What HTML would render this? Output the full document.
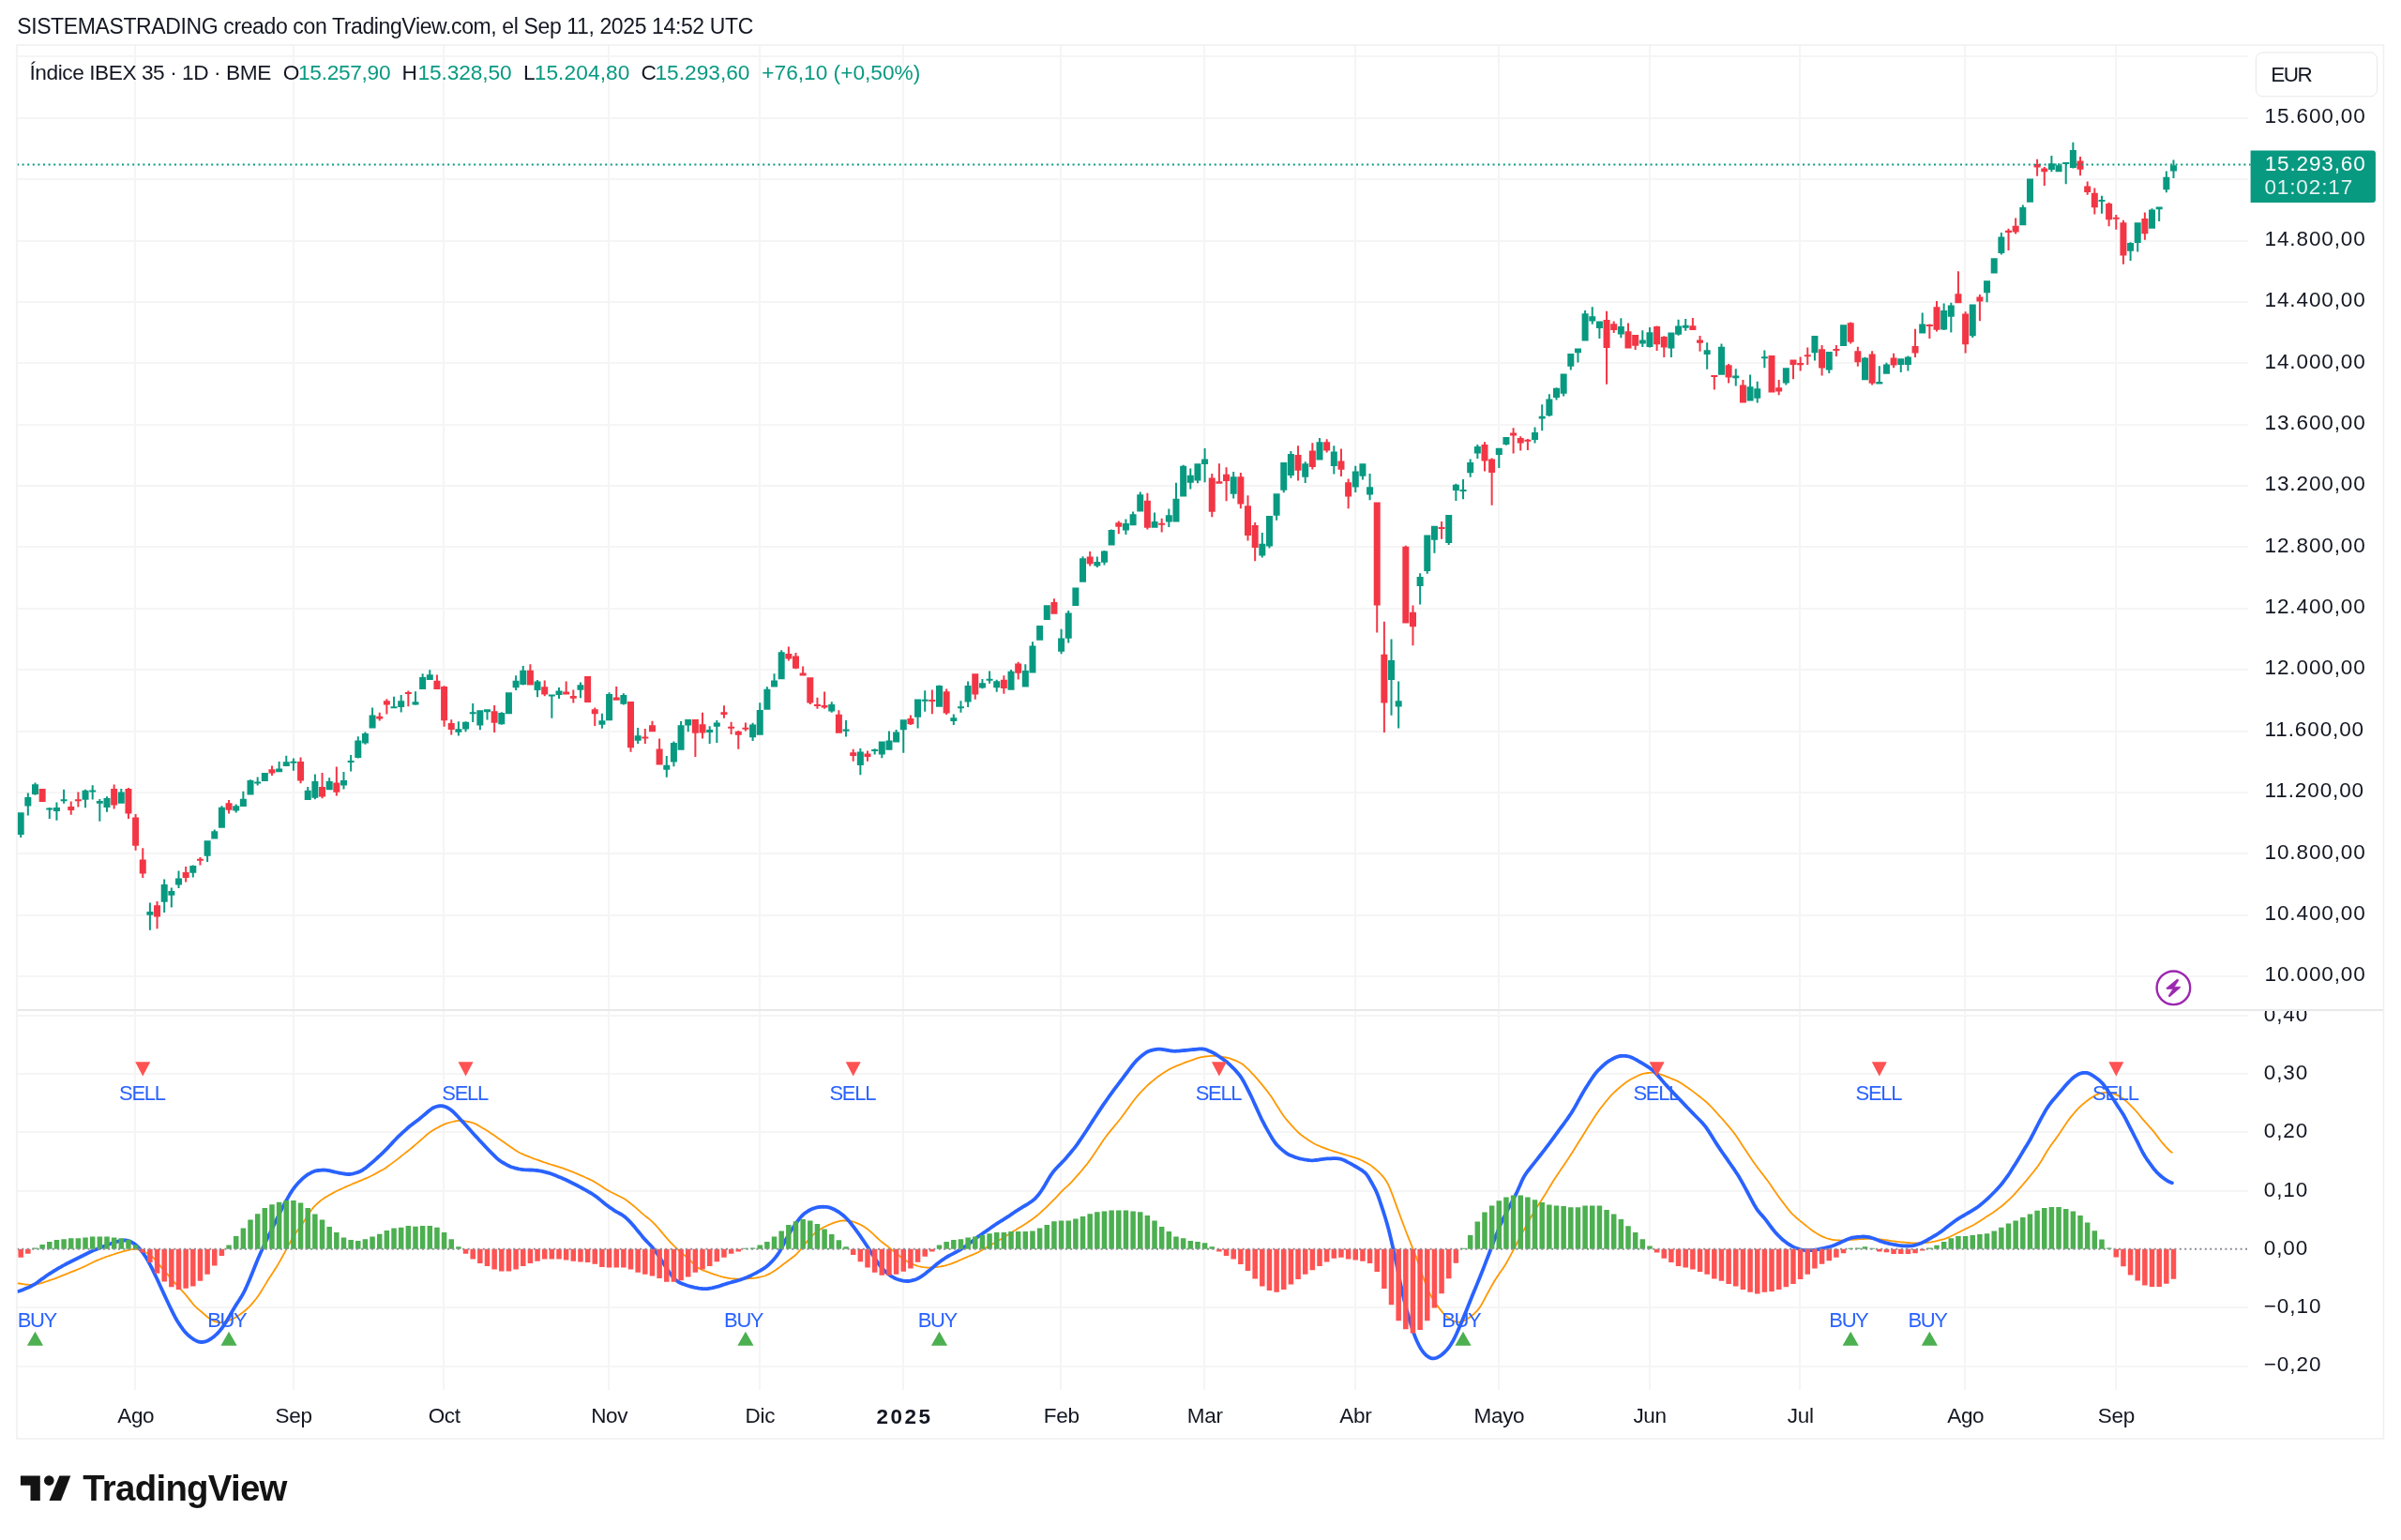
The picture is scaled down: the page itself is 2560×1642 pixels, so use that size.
<!DOCTYPE html>
<html><head><meta charset="utf-8"><style>
html,body{margin:0;padding:0;background:#fff;width:2560px;height:1642px;overflow:hidden}
svg{position:absolute;left:0;top:0;font-family:"Liberation Sans",sans-serif;will-change:transform}
</style></head><body>
<svg width="2560" height="1642" viewBox="0 0 2560 1642">
<line x1="18" y1="60" x2="2397" y2="60" stroke="#f5f5f5" stroke-width="2"/>
<line x1="18" y1="126" x2="2397" y2="126" stroke="#f5f5f5" stroke-width="2"/>
<line x1="18" y1="191" x2="2397" y2="191" stroke="#f5f5f5" stroke-width="2"/>
<line x1="18" y1="257" x2="2397" y2="257" stroke="#f5f5f5" stroke-width="2"/>
<line x1="18" y1="322" x2="2397" y2="322" stroke="#f5f5f5" stroke-width="2"/>
<line x1="18" y1="387" x2="2397" y2="387" stroke="#f5f5f5" stroke-width="2"/>
<line x1="18" y1="453" x2="2397" y2="453" stroke="#f5f5f5" stroke-width="2"/>
<line x1="18" y1="518" x2="2397" y2="518" stroke="#f5f5f5" stroke-width="2"/>
<line x1="18" y1="583" x2="2397" y2="583" stroke="#f5f5f5" stroke-width="2"/>
<line x1="18" y1="649" x2="2397" y2="649" stroke="#f5f5f5" stroke-width="2"/>
<line x1="18" y1="714" x2="2397" y2="714" stroke="#f5f5f5" stroke-width="2"/>
<line x1="18" y1="780" x2="2397" y2="780" stroke="#f5f5f5" stroke-width="2"/>
<line x1="18" y1="845" x2="2397" y2="845" stroke="#f5f5f5" stroke-width="2"/>
<line x1="18" y1="910" x2="2397" y2="910" stroke="#f5f5f5" stroke-width="2"/>
<line x1="18" y1="976" x2="2397" y2="976" stroke="#f5f5f5" stroke-width="2"/>
<line x1="18" y1="1041" x2="2397" y2="1041" stroke="#f5f5f5" stroke-width="2"/>
<line x1="18" y1="1083" x2="2397" y2="1083" stroke="#f5f5f5" stroke-width="2"/>
<line x1="18" y1="1145" x2="2397" y2="1145" stroke="#f5f5f5" stroke-width="2"/>
<line x1="18" y1="1207" x2="2397" y2="1207" stroke="#f5f5f5" stroke-width="2"/>
<line x1="18" y1="1270" x2="2397" y2="1270" stroke="#f5f5f5" stroke-width="2"/>
<line x1="18" y1="1394" x2="2397" y2="1394" stroke="#f5f5f5" stroke-width="2"/>
<line x1="18" y1="1457" x2="2397" y2="1457" stroke="#f5f5f5" stroke-width="2"/>
<line x1="144" y1="48" x2="144" y2="1482" stroke="#f5f5f5" stroke-width="2"/>
<line x1="313" y1="48" x2="313" y2="1482" stroke="#f5f5f5" stroke-width="2"/>
<line x1="473" y1="48" x2="473" y2="1482" stroke="#f5f5f5" stroke-width="2"/>
<line x1="649" y1="48" x2="649" y2="1482" stroke="#f5f5f5" stroke-width="2"/>
<line x1="810" y1="48" x2="810" y2="1482" stroke="#f5f5f5" stroke-width="2"/>
<line x1="963" y1="48" x2="963" y2="1482" stroke="#f5f5f5" stroke-width="2"/>
<line x1="1131" y1="48" x2="1131" y2="1482" stroke="#f5f5f5" stroke-width="2"/>
<line x1="1284" y1="48" x2="1284" y2="1482" stroke="#f5f5f5" stroke-width="2"/>
<line x1="1445" y1="48" x2="1445" y2="1482" stroke="#f5f5f5" stroke-width="2"/>
<line x1="1598" y1="48" x2="1598" y2="1482" stroke="#f5f5f5" stroke-width="2"/>
<line x1="1759" y1="48" x2="1759" y2="1482" stroke="#f5f5f5" stroke-width="2"/>
<line x1="1919" y1="48" x2="1919" y2="1482" stroke="#f5f5f5" stroke-width="2"/>
<line x1="2095" y1="48" x2="2095" y2="1482" stroke="#f5f5f5" stroke-width="2"/>
<line x1="2256" y1="48" x2="2256" y2="1482" stroke="#f5f5f5" stroke-width="2"/>
<clipPath id="mc"><rect x="18" y="48" width="2379" height="1029"/></clipPath>
<g clip-path="url(#mc)"><path fill="#089981" d="M18.68 866.20h7v23.80h-7zM21.18 889.50h2v3.50h-2zM26.33 850.00h7v9.50h-7zM28.83 845.50h2v5.00h-2zM28.83 859.00h2v10.50h-2zM33.99 836.20h7v10.80h-7zM36.49 834.50h2v2.20h-2zM36.49 846.50h2v1.30h-2zM49.29 861.40h7v2.00h-7zM51.79 861.00h2v0.90h-2zM51.79 862.90h2v10.10h-2zM56.94 861.00h7v4.00h-7zM59.44 855.50h2v6.00h-2zM59.44 864.50h2v10.30h-2zM64.59 852.25h7v2.00h-7zM67.09 841.80h2v10.95h-2zM67.09 853.75h2v3.05h-2zM87.54 842.80h7v10.00h-7zM90.04 841.80h2v1.50h-2zM90.04 852.30h2v8.90h-2zM95.19 842.60h7v2.00h-7zM97.69 837.20h2v5.90h-2zM97.69 844.10h2v8.40h-2zM102.84 854.00h7v2.80h-7zM105.34 852.00h2v2.50h-2zM105.34 856.30h2v19.50h-2zM110.50 851.00h7v10.00h-7zM113.00 849.20h2v2.30h-2zM113.00 860.50h2v5.30h-2zM125.80 844.50h7v12.30h-7zM128.30 841.00h2v4.00h-2zM156.40 972.00h7v3.70h-7zM158.90 962.60h2v9.90h-2zM158.90 975.20h2v16.60h-2zM171.70 943.00h7v18.80h-7zM174.20 937.50h2v6.00h-2zM174.20 961.30h2v11.70h-2zM179.35 950.00h7v4.80h-7zM181.85 946.50h2v4.00h-2zM181.85 954.30h2v13.20h-2zM187.01 936.50h7v7.00h-7zM189.51 928.50h2v8.50h-2zM189.51 943.00h2v4.00h-2zM202.31 923.00h7v7.80h-7zM204.81 922.50h2v1.00h-2zM204.81 930.30h2v5.20h-2zM217.61 896.20h7v16.60h-7zM220.11 912.30h2v6.70h-2zM225.26 886.20h7v8.30h-7zM227.76 884.50h2v2.20h-2zM232.91 860.80h7v22.00h-7zM235.41 859.20h2v2.10h-2zM248.21 859.30h7v5.30h-7zM250.71 857.50h2v2.30h-2zM250.71 864.10h2v2.30h-2zM255.87 851.80h7v8.30h-7zM258.37 843.80h2v8.50h-2zM263.52 832.00h7v15.60h-7zM266.02 831.20h2v1.30h-2zM271.17 833.40h7v2.00h-7zM273.67 828.40h2v5.50h-2zM273.67 834.90h2v2.70h-2zM278.82 824.10h7v9.00h-7zM294.12 819.40h7v3.90h-7zM296.62 812.10h2v7.80h-2zM301.77 812.30h7v4.70h-7zM304.27 805.70h2v7.10h-2zM309.42 811.85h7v2.00h-7zM311.92 808.40h2v3.95h-2zM311.92 813.35h2v8.45h-2zM324.72 842.80h7v10.20h-7zM327.22 839.10h2v4.20h-2zM332.38 832.90h7v17.80h-7zM334.88 825.60h2v7.80h-2zM334.88 850.20h2v2.00h-2zM347.68 832.90h7v9.40h-7zM350.18 829.30h2v4.10h-2zM362.98 832.10h7v5.50h-7zM365.48 823.10h2v9.50h-2zM365.48 837.10h2v4.50h-2zM370.63 810.90h7v2.00h-7zM373.13 805.10h2v6.30h-2zM373.13 812.40h2v10.20h-2zM378.28 789.60h7v18.40h-7zM380.78 785.30h2v4.80h-2zM380.78 807.50h2v0.90h-2zM385.93 782.10h7v10.50h-7zM388.43 780.40h2v2.20h-2zM388.43 792.10h2v1.60h-2zM393.58 762.40h7v14.20h-7zM396.08 754.50h2v8.40h-2zM416.54 753.30h7v2.00h-7zM419.04 742.70h2v11.10h-2zM424.19 747.20h7v6.70h-7zM426.69 741.10h2v6.60h-2zM426.69 753.40h2v6.10h-2zM439.49 748.30h7v3.10h-7zM441.99 737.30h2v11.50h-2zM441.99 750.90h2v0.90h-2zM447.14 722.00h7v13.00h-7zM449.64 718.30h2v4.20h-2zM454.79 719.20h7v5.70h-7zM457.29 714.20h2v5.50h-2zM485.39 777.30h7v3.40h-7zM487.89 769.20h2v8.60h-2zM487.89 780.20h2v4.40h-2zM493.05 769.70h7v7.90h-7zM495.55 769.20h2v1.00h-2zM495.55 777.10h2v3.10h-2zM500.70 759.30h7v2.00h-7zM503.20 750.00h2v9.80h-2zM503.20 760.80h2v9.30h-2zM508.35 757.30h7v16.30h-7zM510.85 773.10h2v5.20h-2zM516.00 756.30h7v2.90h-7zM518.50 758.70h2v8.90h-2zM531.30 760.10h7v12.20h-7zM533.80 759.20h2v1.40h-2zM533.80 771.80h2v0.90h-2zM538.95 738.30h7v22.90h-7zM546.60 725.80h7v7.50h-7zM549.10 720.20h2v6.10h-2zM549.10 732.80h2v3.10h-2zM554.25 714.80h7v15.30h-7zM556.75 710.10h2v5.20h-2zM556.75 729.60h2v0.90h-2zM569.56 726.50h7v9.40h-7zM572.06 724.90h2v2.10h-2zM572.06 735.40h2v7.80h-2zM584.86 740.40h7v2.00h-7zM587.36 741.90h2v23.80h-2zM592.51 736.40h7v4.70h-7zM595.01 732.90h2v4.00h-2zM595.01 740.60h2v4.50h-2zM615.46 730.30h7v5.40h-7zM617.96 727.50h2v3.30h-2zM617.96 735.20h2v9.00h-2zM638.41 768.20h7v4.50h-7zM640.91 760.80h2v7.90h-2zM640.91 772.20h2v4.50h-2zM646.07 740.10h7v28.10h-7zM648.57 738.30h2v2.30h-2zM661.37 741.10h7v9.60h-7zM663.87 739.20h2v2.40h-2zM663.87 750.20h2v1.20h-2zM676.67 784.20h7v5.60h-7zM679.17 776.00h2v8.70h-2zM679.17 789.30h2v3.60h-2zM707.27 815.80h7v4.90h-7zM709.77 806.00h2v10.30h-2zM709.77 820.20h2v8.50h-2zM714.92 792.10h7v20.50h-7zM717.42 790.50h2v2.10h-2zM717.42 812.10h2v5.20h-2zM722.58 773.20h7v26.60h-7zM725.08 768.90h2v4.80h-2zM730.23 767.00h7v6.60h-7zM732.73 773.10h2v7.10h-2zM753.18 778.10h7v2.80h-7zM755.68 774.30h2v4.30h-2zM755.68 780.40h2v12.50h-2zM760.83 770.60h7v4.20h-7zM763.33 768.00h2v3.10h-2zM763.33 774.30h2v17.70h-2zM799.09 772.50h7v13.80h-7zM801.59 770.80h2v2.20h-2zM801.59 785.80h2v4.30h-2zM806.74 757.00h7v26.70h-7zM809.24 749.20h2v8.30h-2zM814.39 734.80h7v21.90h-7zM816.89 732.20h2v3.10h-2zM822.04 725.60h7v6.80h-7zM824.54 718.30h2v7.80h-2zM829.69 695.20h7v29.00h-7zM832.19 693.30h2v2.40h-2zM883.25 751.00h7v7.50h-7zM885.75 748.20h2v3.30h-2zM885.75 758.00h2v1.70h-2zM898.55 777.50h7v2.30h-7zM901.05 768.10h2v9.90h-2zM901.05 779.30h2v6.10h-2zM913.85 801.40h7v14.50h-7zM916.35 797.90h2v4.00h-2zM916.35 815.40h2v10.80h-2zM929.15 798.95h7v2.00h-7zM931.65 798.30h2v1.15h-2zM931.65 800.45h2v4.15h-2zM936.80 790.60h7v14.00h-7zM939.30 804.10h2v4.10h-2zM944.46 789.60h7v10.20h-7zM946.96 779.50h2v10.60h-2zM952.11 780.50h7v11.00h-7zM954.61 777.90h2v3.10h-2zM959.76 767.20h7v11.00h-7zM962.26 777.70h2v25.10h-2zM975.06 745.60h7v19.20h-7zM977.56 764.30h2v12.20h-2zM982.71 745.70h7v2.00h-7zM985.21 736.20h2v10.00h-2zM985.21 747.20h2v11.50h-2zM998.01 731.10h7v22.70h-7zM1000.51 730.40h2v1.20h-2zM1013.31 765.30h7v3.70h-7zM1015.81 761.50h2v4.30h-2zM1015.81 768.50h2v4.50h-2zM1020.96 753.30h7v2.00h-7zM1023.46 747.30h2v6.50h-2zM1023.46 754.80h2v4.90h-2zM1028.62 731.10h7v17.50h-7zM1031.12 726.40h2v5.20h-2zM1031.12 748.10h2v5.90h-2zM1043.92 728.30h7v5.10h-7zM1046.42 723.90h2v4.90h-2zM1046.42 732.90h2v1.30h-2zM1051.57 723.85h7v2.00h-7zM1054.07 715.60h2v8.75h-2zM1054.07 725.35h2v3.35h-2zM1059.22 726.30h7v7.00h-7zM1061.72 724.70h2v2.10h-2zM1061.72 732.80h2v4.90h-2zM1074.52 715.80h7v19.90h-7zM1077.02 714.00h2v2.30h-2zM1089.82 715.00h7v17.50h-7zM1092.32 708.30h2v7.20h-2zM1097.47 688.60h7v29.00h-7zM1099.97 684.20h2v4.90h-2zM1105.13 667.00h7v15.80h-7zM1112.78 645.30h7v15.70h-7zM1128.08 680.40h7v14.40h-7zM1130.58 670.80h2v10.10h-2zM1130.58 694.30h2v3.00h-2zM1135.73 653.50h7v27.20h-7zM1138.23 651.10h2v2.90h-2zM1138.23 680.20h2v5.40h-2zM1143.38 626.50h7v19.50h-7zM1151.03 595.20h7v25.50h-7zM1153.53 593.30h2v2.40h-2zM1166.33 599.10h7v4.40h-7zM1168.83 593.50h2v6.10h-2zM1168.83 603.00h2v2.10h-2zM1173.98 587.60h7v12.20h-7zM1176.48 587.00h2v1.10h-2zM1176.48 599.30h2v3.30h-2zM1181.64 565.10h7v16.40h-7zM1184.14 564.50h2v1.10h-2zM1196.94 558.10h7v7.50h-7zM1199.44 553.40h2v5.20h-2zM1199.44 565.10h2v5.00h-2zM1204.59 548.20h7v12.00h-7zM1207.09 545.40h2v3.30h-2zM1212.24 527.20h7v18.20h-7zM1214.74 524.50h2v3.20h-2zM1227.54 556.00h7v6.80h-7zM1230.04 546.40h2v10.10h-2zM1242.84 549.20h7v7.20h-7zM1245.34 542.60h2v7.10h-2zM1245.34 555.90h2v6.10h-2zM1250.49 531.80h7v24.60h-7zM1252.99 514.80h2v17.50h-2zM1258.15 496.70h7v32.80h-7zM1260.65 495.80h2v1.40h-2zM1265.80 506.70h7v8.10h-7zM1268.30 499.50h2v7.70h-2zM1268.30 514.30h2v7.10h-2zM1273.45 494.20h7v18.40h-7zM1275.95 512.10h2v3.10h-2zM1281.10 489.50h7v5.60h-7zM1283.60 478.00h2v12.00h-2zM1283.60 494.60h2v19.60h-2zM1311.70 508.20h7v18.50h-7zM1314.20 503.00h2v5.70h-2zM1314.20 526.20h2v5.20h-2zM1342.31 579.80h7v12.80h-7zM1344.81 567.90h2v12.40h-2zM1344.81 592.10h2v2.50h-2zM1349.96 550.10h7v32.40h-7zM1352.46 582.00h2v2.50h-2zM1357.61 526.20h7v23.50h-7zM1360.11 549.20h2v5.60h-2zM1365.26 493.00h7v29.70h-7zM1367.76 522.20h2v3.10h-2zM1372.91 483.90h7v23.10h-7zM1375.41 481.10h2v3.30h-2zM1375.41 506.50h2v3.30h-2zM1388.21 494.20h7v14.50h-7zM1390.71 492.30h2v2.40h-2zM1390.71 508.20h2v6.90h-2zM1403.51 471.20h7v19.30h-7zM1406.01 467.00h2v4.70h-2zM1418.82 481.40h7v15.60h-7zM1421.32 475.20h2v6.70h-2zM1421.32 496.50h2v9.00h-2zM1441.77 502.40h7v17.10h-7zM1444.27 496.70h2v6.20h-2zM1444.27 519.00h2v6.10h-2zM1449.42 494.20h7v13.60h-7zM1451.92 507.30h2v4.20h-2zM1457.07 519.20h7v8.30h-7zM1459.57 505.00h2v14.70h-2zM1459.57 527.00h2v6.30h-2zM1525.93 560.70h7v15.00h-7zM1528.43 575.20h2v14.60h-2zM1541.23 549.00h7v30.00h-7zM1543.73 578.50h2v2.40h-2zM1548.88 516.70h7v6.30h-7zM1551.38 515.80h2v1.40h-2zM1551.38 522.50h2v11.50h-2zM1556.53 522.00h7v2.00h-7zM1559.03 511.10h2v11.40h-2zM1559.03 523.50h2v8.70h-2zM1564.19 493.00h7v11.20h-7zM1566.69 489.50h2v4.00h-2zM1566.69 503.70h2v5.00h-2zM1571.84 475.90h7v7.50h-7zM1574.34 474.10h2v2.30h-2zM1574.34 482.90h2v6.10h-2zM1594.79 477.80h7v7.30h-7zM1597.29 484.60h2v14.30h-2zM1480.02 704.00h7v21.10h-7zM1482.52 681.50h2v23.00h-2zM1482.52 724.60h2v38.10h-2zM1487.68 747.30h7v6.30h-7zM1490.18 726.40h2v21.40h-2zM1490.18 753.10h2v23.30h-2zM1510.63 614.90h7v10.20h-7zM1513.13 611.30h2v4.10h-2zM1513.13 624.60h2v19.90h-2zM1518.28 570.50h7v38.60h-7zM1520.78 608.60h2v3.20h-2zM1602.44 466.10h7v7.80h-7zM1604.94 473.40h2v1.30h-2zM1633.04 460.90h7v8.10h-7zM1635.54 455.50h2v5.90h-2zM1635.54 468.50h2v4.10h-2zM1640.70 443.70h7v2.90h-7zM1643.20 431.30h2v12.90h-2zM1643.20 446.10h2v13.20h-2zM1648.35 425.40h7v17.80h-7zM1650.85 420.30h2v5.60h-2zM1650.85 442.70h2v1.20h-2zM1656.00 413.70h7v10.30h-7zM1658.50 413.20h2v1.00h-2zM1658.50 423.50h2v3.10h-2zM1663.65 398.50h7v21.30h-7zM1666.15 419.30h2v3.30h-2zM1671.30 377.00h7v13.80h-7zM1673.80 390.30h2v4.20h-2zM1678.95 371.50h7v4.70h-7zM1681.45 375.70h2v10.80h-2zM1686.60 334.20h7v29.40h-7zM1689.10 331.10h2v3.60h-2zM1694.25 337.30h7v5.20h-7zM1696.75 327.30h2v10.50h-2zM1696.75 342.00h2v3.80h-2zM1701.90 342.50h7v7.50h-7zM1704.40 349.50h2v11.50h-2zM1724.86 348.10h7v8.40h-7zM1727.36 339.20h2v9.40h-2zM1727.36 356.00h2v4.30h-2zM1747.81 362.60h7v3.80h-7zM1750.31 352.30h2v10.80h-2zM1750.31 365.90h2v4.20h-2zM1755.46 354.20h7v15.90h-7zM1757.96 349.00h2v5.70h-2zM1757.96 369.60h2v1.00h-2zM1778.41 354.50h7v17.00h-7zM1780.91 371.00h2v9.90h-2zM1786.06 347.40h7v9.30h-7zM1788.56 340.80h2v7.10h-2zM1788.56 356.20h2v1.50h-2zM1793.72 346.70h7v3.10h-7zM1796.22 339.90h2v7.30h-2zM1796.22 349.30h2v3.50h-2zM1816.67 373.20h7v4.70h-7zM1819.17 365.20h2v8.50h-2zM1819.17 377.40h2v16.40h-2zM1831.97 369.70h7v30.00h-7zM1834.47 366.40h2v3.80h-2zM1847.27 400.40h7v2.80h-7zM1849.77 393.30h2v7.60h-2zM1849.77 402.70h2v8.70h-2zM1862.57 412.30h7v15.30h-7zM1865.07 399.50h2v13.30h-2zM1870.23 414.20h7v10.60h-7zM1872.73 406.70h2v8.00h-2zM1872.73 424.30h2v5.20h-2zM1877.88 380.15h7v2.00h-7zM1880.38 373.40h2v7.25h-2zM1880.38 381.65h2v10.65h-2zM1900.83 392.30h7v16.30h-7zM1903.33 408.10h2v2.30h-2zM1931.43 358.00h7v18.20h-7zM1933.93 375.70h2v8.80h-2zM1946.74 375.10h7v19.40h-7zM1949.24 394.00h2v4.00h-2zM1962.04 346.20h7v22.70h-7zM1984.99 381.40h7v23.90h-7zM1987.49 380.70h2v1.20h-2zM2000.29 407.00h7v2.50h-7zM2002.79 390.30h2v17.20h-2zM2007.94 388.60h7v10.10h-7zM2010.44 386.70h2v2.40h-2zM2023.25 382.30h7v6.60h-7zM2025.75 388.40h2v8.60h-2zM2030.90 380.40h7v8.50h-7zM2033.40 379.50h2v1.40h-2zM2033.40 388.40h2v7.00h-2zM2046.20 345.50h7v10.00h-7zM2048.70 333.50h2v12.50h-2zM2069.15 331.10h7v20.30h-7zM2071.65 323.60h2v8.00h-2zM2071.65 350.90h2v1.10h-2zM2076.80 325.60h7v12.10h-7zM2079.30 322.70h2v3.40h-2zM2079.30 337.20h2v17.30h-2zM2099.76 324.50h7v33.70h-7zM2102.26 357.70h2v2.30h-2zM2115.06 299.30h7v13.00h-7zM2117.56 311.80h2v10.50h-2zM2122.71 275.30h7v16.30h-7zM2130.36 252.50h7v17.50h-7zM2132.86 247.90h2v5.10h-2zM2132.86 269.50h2v2.00h-2zM2153.31 221.00h7v19.30h-7zM2155.81 218.40h2v3.10h-2zM2160.96 190.50h7v25.30h-7zM2183.92 174.30h7v6.80h-7zM2186.42 166.10h2v8.70h-2zM2186.42 180.60h2v2.70h-2zM2191.57 176.20h7v7.10h-7zM2194.07 174.30h2v2.40h-2zM2199.22 172.95h7v2.00h-7zM2201.72 174.45h2v21.85h-2zM2206.87 160.00h7v19.00h-7zM2209.37 151.70h2v8.80h-2zM2209.37 178.50h2v0.90h-2zM2237.47 213.00h7v2.00h-7zM2239.97 208.70h2v4.80h-2zM2239.97 214.50h2v13.20h-2zM2268.08 259.00h7v8.80h-7zM2270.58 258.30h2v1.20h-2zM2270.58 267.30h2v10.80h-2zM2275.73 237.20h7v21.80h-7zM2278.23 258.50h2v9.90h-2zM2291.03 223.60h7v20.10h-7zM2293.53 222.30h2v1.80h-2zM2298.68 220.40h7v2.90h-7zM2301.18 222.80h2v13.10h-2zM2306.33 188.70h7v13.60h-7zM2308.83 182.40h2v6.80h-2zM2308.83 201.80h2v3.50h-2zM2313.98 176.20h7v6.20h-7zM2316.48 170.40h2v6.30h-2zM2316.48 181.90h2v8.00h-2z"/><path fill="#f23645" d="M41.64 841.00h7v14.00h-7zM72.24 860.00h7v4.00h-7zM74.74 854.50h2v6.00h-2zM74.74 863.50h2v5.30h-2zM79.89 852.25h7v2.00h-7zM82.39 844.50h2v8.25h-2zM82.39 853.75h2v6.75h-2zM118.15 841.00h7v17.50h-7zM120.65 836.50h2v5.00h-2zM120.65 858.00h2v4.50h-2zM133.45 841.00h7v26.50h-7zM135.95 840.00h2v1.50h-2zM135.95 867.00h2v6.00h-2zM141.10 871.50h7v30.30h-7zM143.60 868.00h2v4.00h-2zM143.60 901.30h2v5.50h-2zM148.75 916.60h7v14.80h-7zM151.25 904.20h2v12.90h-2zM151.25 930.90h2v5.20h-2zM164.05 965.30h7v12.10h-7zM166.55 961.00h2v4.80h-2zM166.55 976.90h2v13.40h-2zM194.66 930.00h7v6.00h-7zM197.16 924.00h2v6.50h-2zM197.16 935.50h2v5.00h-2zM209.96 915.85h7v2.00h-7zM212.46 914.00h2v2.35h-2zM212.46 917.35h2v5.15h-2zM240.56 856.30h7v7.50h-7zM243.06 853.00h2v3.80h-2zM243.06 863.30h2v4.30h-2zM286.47 820.30h7v4.20h-7zM288.97 816.60h2v4.20h-2zM288.97 824.00h2v3.10h-2zM317.07 812.10h7v20.50h-7zM319.57 807.40h2v5.20h-2zM319.57 832.10h2v3.20h-2zM340.03 839.10h7v10.50h-7zM342.53 823.90h2v15.70h-2zM342.53 849.10h2v2.20h-2zM355.33 834.60h7v10.10h-7zM357.83 817.60h2v17.50h-2zM357.83 844.20h2v4.40h-2zM401.23 763.80h7v2.60h-7zM403.73 759.80h2v4.50h-2zM403.73 765.90h2v2.60h-2zM408.88 747.20h7v4.20h-7zM411.38 745.30h2v2.40h-2zM411.38 750.90h2v10.50h-2zM431.84 737.90h7v2.00h-7zM434.34 736.40h2v2.00h-2zM434.34 739.40h2v13.90h-2zM462.44 725.80h7v9.20h-7zM464.94 719.50h2v6.80h-2zM470.09 732.00h7v36.20h-7zM472.59 731.20h2v1.30h-2zM472.59 767.70h2v7.10h-2zM477.74 771.10h7v7.00h-7zM480.24 767.30h2v4.30h-2zM480.24 777.60h2v5.90h-2zM523.65 758.20h7v12.60h-7zM526.15 751.90h2v6.80h-2zM526.15 770.30h2v10.80h-2zM561.90 714.80h7v15.70h-7zM564.40 708.30h2v7.00h-2zM577.21 732.20h7v8.40h-7zM579.71 725.60h2v7.10h-2zM579.71 740.10h2v2.20h-2zM600.16 737.60h7v2.80h-7zM602.66 726.50h2v11.60h-2zM607.81 742.00h7v2.80h-7zM610.31 735.50h2v7.00h-2zM610.31 744.30h2v5.20h-2zM623.11 721.10h7v27.80h-7zM630.76 756.30h7v4.90h-7zM633.26 754.50h2v2.30h-2zM633.26 760.70h2v13.20h-2zM653.72 743.60h7v3.10h-7zM656.22 732.00h2v12.10h-2zM669.02 748.10h7v49.20h-7zM671.52 796.80h2v4.90h-2zM684.32 785.55h7v2.00h-7zM686.82 777.00h2v9.05h-2zM686.82 787.05h2v5.85h-2zM691.97 773.20h7v7.00h-7zM694.47 768.70h2v5.00h-2zM699.62 798.50h7v16.90h-7zM702.12 787.60h2v11.40h-2zM737.88 767.00h7v14.80h-7zM740.38 781.30h2v25.80h-2zM745.53 772.30h7v9.30h-7zM748.03 759.80h2v13.00h-2zM748.03 781.10h2v6.40h-2zM768.48 759.20h7v2.80h-7zM770.98 752.30h2v7.40h-2zM770.98 761.50h2v4.20h-2zM776.13 774.65h7v2.00h-7zM778.63 769.80h2v5.35h-2zM778.63 776.15h2v6.85h-2zM783.78 779.80h7v3.90h-7zM786.28 779.00h2v1.30h-2zM786.28 783.20h2v15.50h-2zM791.44 775.80h7v2.00h-7zM793.94 770.60h2v5.70h-2zM793.94 777.30h2v2.20h-2zM837.34 696.90h7v5.60h-7zM839.84 689.40h2v8.00h-2zM839.84 702.00h2v2.60h-2zM844.99 699.50h7v13.30h-7zM847.49 696.10h2v3.90h-2zM847.49 712.30h2v1.00h-2zM852.64 717.50h7v3.00h-7zM855.14 710.50h2v7.50h-2zM860.29 722.20h7v27.30h-7zM862.79 749.00h2v2.00h-2zM867.95 750.90h7v2.00h-7zM870.45 743.70h2v7.70h-2zM870.45 752.40h2v3.30h-2zM875.60 752.00h7v2.50h-7zM878.10 737.40h2v15.10h-2zM878.10 754.00h2v1.70h-2zM890.90 761.70h7v20.00h-7zM893.40 757.30h2v4.90h-2zM906.20 802.30h7v3.70h-7zM908.70 798.80h2v4.00h-2zM908.70 805.50h2v6.20h-2zM921.50 803.50h7v3.50h-7zM924.00 800.40h2v3.60h-2zM924.00 806.50h2v5.20h-2zM967.41 766.00h7v6.30h-7zM969.91 762.50h2v4.00h-2zM969.91 771.80h2v1.20h-2zM990.36 746.00h7v2.00h-7zM992.86 735.50h2v11.00h-2zM992.86 747.50h2v13.80h-2zM1005.66 737.20h7v23.20h-7zM1008.16 734.50h2v3.20h-2zM1008.16 759.90h2v2.10h-2zM1036.27 718.20h7v22.20h-7zM1038.77 739.90h2v5.90h-2zM1066.87 724.70h7v9.30h-7zM1069.37 720.20h2v5.00h-2zM1069.37 733.50h2v6.20h-2zM1082.17 707.50h7v10.30h-7zM1084.67 705.80h2v2.20h-2zM1084.67 717.30h2v7.20h-2zM1120.43 642.00h7v12.70h-7zM1122.93 638.30h2v4.20h-2zM1158.68 593.50h7v7.70h-7zM1161.18 587.90h2v6.10h-2zM1161.18 600.70h2v2.80h-2zM1189.29 557.20h7v4.60h-7zM1191.79 555.50h2v2.20h-2zM1191.79 561.30h2v8.00h-2zM1219.89 533.70h7v29.10h-7zM1222.39 525.80h2v8.40h-2zM1222.39 562.30h2v2.30h-2zM1235.19 557.65h7v2.00h-7zM1237.69 552.70h2v5.45h-2zM1237.69 559.15h2v8.35h-2zM1288.75 509.40h7v36.30h-7zM1291.25 504.90h2v5.00h-2zM1291.25 545.20h2v6.10h-2zM1296.40 513.30h7v2.40h-7zM1298.90 494.20h2v19.60h-2zM1304.05 505.80h7v7.30h-7zM1306.55 498.30h2v8.00h-2zM1306.55 512.60h2v21.60h-2zM1319.35 508.20h7v29.30h-7zM1321.85 503.90h2v4.80h-2zM1321.85 537.00h2v5.20h-2zM1327.00 539.20h7v31.80h-7zM1329.50 528.30h2v11.40h-2zM1329.50 570.50h2v6.10h-2zM1334.66 560.00h7v23.90h-7zM1337.16 557.00h2v3.50h-2zM1337.16 583.40h2v14.80h-2zM1380.56 485.00h7v16.70h-7zM1383.06 475.20h2v10.30h-2zM1383.06 501.20h2v11.40h-2zM1395.86 480.40h7v17.60h-7zM1398.36 472.20h2v8.70h-2zM1398.36 497.50h2v3.00h-2zM1411.17 471.20h7v9.40h-7zM1413.67 468.20h2v3.50h-2zM1413.67 480.10h2v2.40h-2zM1426.47 491.40h7v9.40h-7zM1428.97 478.60h2v13.30h-2zM1428.97 500.30h2v7.70h-2zM1434.12 514.20h7v15.30h-7zM1436.62 510.40h2v4.30h-2zM1436.62 529.00h2v13.30h-2zM1533.58 562.10h7v2.00h-7zM1536.08 556.00h2v6.60h-2zM1536.08 563.60h2v11.20h-2zM1579.49 474.10h7v17.30h-7zM1581.99 471.20h2v3.40h-2zM1581.99 490.90h2v11.70h-2zM1587.14 489.50h7v14.50h-7zM1589.64 488.60h2v1.40h-2zM1589.64 503.50h2v35.20h-2zM1464.72 535.50h7v110.00h-7zM1467.22 645.00h2v29.50h-2zM1472.37 697.80h7v51.70h-7zM1474.87 662.70h2v35.60h-2zM1474.87 749.00h2v31.90h-2zM1495.33 582.70h7v81.80h-7zM1497.83 581.80h2v1.40h-2zM1502.98 652.70h7v15.50h-7zM1505.48 645.50h2v7.70h-2zM1505.48 667.70h2v20.50h-2zM1610.09 461.40h7v3.10h-7zM1612.59 456.20h2v5.70h-2zM1612.59 464.00h2v19.50h-2zM1617.74 467.10h7v5.50h-7zM1620.24 465.30h2v2.30h-2zM1620.24 472.10h2v8.50h-2zM1625.39 468.85h7v2.00h-7zM1627.89 467.90h2v1.45h-2zM1627.89 470.35h2v9.55h-2zM1709.55 341.10h7v30.00h-7zM1712.05 331.70h2v9.90h-2zM1712.05 370.60h2v39.20h-2zM1717.21 345.30h7v6.60h-7zM1719.71 342.50h2v3.30h-2zM1719.71 351.40h2v3.50h-2zM1732.51 353.30h7v18.20h-7zM1735.01 344.40h2v9.40h-2zM1740.16 357.00h7v11.70h-7zM1742.66 368.20h2v4.70h-2zM1763.11 347.90h7v19.40h-7zM1765.61 347.40h2v1.00h-2zM1765.61 366.80h2v7.10h-2zM1770.76 358.90h7v11.70h-7zM1773.26 358.20h2v1.20h-2zM1773.26 370.10h2v10.80h-2zM1801.37 347.20h7v4.80h-7zM1803.87 338.90h2v8.80h-2zM1809.02 362.60h7v3.10h-7zM1811.52 358.00h2v5.10h-2zM1811.52 365.20h2v9.60h-2zM1824.32 399.95h7v2.00h-7zM1826.82 401.45h2v13.95h-2zM1839.62 389.30h7v13.20h-7zM1842.12 387.90h2v1.90h-2zM1842.12 402.00h2v6.60h-2zM1854.92 410.40h7v19.10h-7zM1857.42 405.10h2v5.80h-2zM1885.53 378.90h7v39.50h-7zM1893.18 413.20h7v4.40h-7zM1895.68 405.10h2v8.60h-2zM1895.68 417.10h2v4.10h-2zM1908.48 383.50h7v5.40h-7zM1910.98 388.40h2v15.90h-2zM1916.13 387.00h7v2.30h-7zM1918.63 380.40h2v7.10h-2zM1918.63 388.80h2v6.60h-2zM1923.78 378.20h7v2.00h-7zM1926.28 370.60h2v8.10h-2zM1926.28 379.70h2v9.20h-2zM1939.08 372.30h7v20.30h-7zM1941.58 368.00h2v4.80h-2zM1941.58 392.10h2v8.50h-2zM1954.39 372.10h7v2.00h-7zM1956.89 368.00h2v4.60h-2zM1956.89 373.60h2v6.40h-2zM1969.69 344.20h7v20.60h-7zM1972.19 343.40h2v1.30h-2zM1972.19 364.30h2v2.10h-2zM1977.34 374.20h7v12.10h-7zM1979.84 369.70h2v5.00h-2zM1979.84 385.80h2v5.00h-2zM1992.64 377.60h7v31.20h-7zM1995.14 374.20h2v3.90h-2zM1995.14 408.30h2v2.10h-2zM2015.59 381.40h7v8.10h-7zM2018.09 376.70h2v5.20h-2zM2018.09 389.00h2v3.30h-2zM2038.55 368.90h7v7.50h-7zM2041.05 350.70h2v18.70h-2zM2041.05 375.90h2v5.00h-2zM2053.85 345.95h7v2.00h-7zM2056.35 345.50h2v0.95h-2zM2056.35 347.45h2v13.45h-2zM2061.50 327.30h7v24.50h-7zM2064.00 321.10h2v6.70h-2zM2064.00 351.30h2v2.30h-2zM2084.45 313.20h7v10.00h-7zM2086.95 289.30h2v24.40h-2zM2092.11 334.40h7v32.90h-7zM2094.61 332.30h2v2.60h-2zM2094.61 366.80h2v9.60h-2zM2107.41 316.50h7v4.90h-7zM2109.91 314.10h2v2.90h-2zM2109.91 320.90h2v21.40h-2zM2138.01 245.70h7v2.40h-7zM2140.51 243.70h2v2.50h-2zM2140.51 247.60h2v19.50h-2zM2145.66 240.80h7v6.80h-7zM2148.16 232.50h2v8.80h-2zM2148.16 247.10h2v2.50h-2zM2168.61 175.10h7v3.40h-7zM2171.11 169.70h2v5.90h-2zM2171.11 178.00h2v9.70h-2zM2176.27 179.40h7v3.90h-7zM2178.77 178.00h2v1.90h-2zM2178.77 182.80h2v15.20h-2zM2214.52 171.40h7v9.30h-7zM2217.02 167.10h2v4.80h-2zM2217.02 180.20h2v7.00h-2zM2222.17 198.40h7v6.70h-7zM2224.67 193.40h2v5.50h-2zM2224.67 204.60h2v3.10h-2zM2229.82 205.70h7v15.60h-7zM2232.32 200.40h2v5.80h-2zM2232.32 220.80h2v7.80h-2zM2245.12 217.10h7v17.20h-7zM2247.62 215.80h2v1.80h-2zM2247.62 233.80h2v7.50h-2zM2252.78 231.65h7v2.00h-7zM2255.28 229.10h2v3.05h-2zM2255.28 233.15h2v11.55h-2zM2260.43 237.20h7v35.30h-7zM2262.93 234.70h2v3.00h-2zM2262.93 272.00h2v9.70h-2zM2283.38 233.00h7v16.30h-7zM2285.88 226.50h2v7.00h-2zM2285.88 248.80h2v6.90h-2z"/></g>
<clipPath id="ic"><rect x="18" y="1078" width="2379" height="404"/></clipPath>
<g clip-path="url(#ic)">
<path d="M18.9 1368.3 L20.9 1368.5 L22.9 1368.8 L24.9 1369.2 L26.9 1369.5 L28.9 1369.7 L30.9 1369.9 L32.9 1369.9 L34.9 1369.7 L36.9 1369.5 L38.9 1369.3 L40.9 1368.9 L42.9 1368.4 L44.9 1367.8 L46.9 1367.2 L48.9 1366.5 L50.9 1365.9 L52.9 1365.2 L54.9 1364.5 L56.9 1363.8 L58.9 1363.1 L60.9 1362.3 L62.9 1361.5 L64.9 1360.7 L66.9 1359.9 L68.9 1359.1 L70.9 1358.3 L72.9 1357.5 L74.9 1356.7 L76.9 1355.9 L78.9 1355.1 L80.9 1354.3 L82.9 1353.5 L84.9 1352.7 L86.9 1351.8 L88.9 1350.9 L90.9 1350.0 L92.9 1349.0 L94.9 1348.0 L96.9 1347.0 L98.9 1346.0 L100.9 1345.0 L102.9 1344.1 L104.9 1343.3 L106.9 1342.5 L108.9 1341.7 L110.9 1341.0 L112.9 1340.2 L114.9 1339.5 L116.9 1338.8 L118.9 1338.1 L120.9 1337.5 L122.9 1336.8 L124.9 1336.2 L126.9 1335.6 L128.9 1335.0 L130.9 1334.4 L132.9 1333.9 L134.9 1333.3 L136.9 1332.9 L138.9 1332.4 L140.9 1332.1 L142.9 1331.8 L144.9 1331.8 L146.9 1332.1 L148.9 1332.7 L150.9 1333.5 L152.9 1334.4 L154.9 1335.3 L156.9 1336.2 L158.9 1337.3 L160.9 1338.7 L162.9 1340.5 L164.9 1342.7 L166.9 1345.0 L168.9 1347.4 L170.9 1349.8 L172.9 1352.2 L174.9 1354.5 L176.9 1356.9 L178.9 1359.2 L180.9 1361.5 L182.9 1363.7 L184.9 1366.0 L186.9 1368.3 L188.9 1370.5 L190.9 1372.8 L192.9 1375.0 L194.9 1377.2 L196.9 1379.4 L198.9 1381.6 L200.9 1384.1 L202.9 1386.6 L204.9 1389.2 L206.9 1391.7 L208.9 1393.7 L210.9 1395.5 L212.9 1397.1 L214.9 1398.8 L216.9 1400.5 L218.9 1402.3 L220.9 1404.0 L222.9 1405.5 L224.9 1406.9 L226.9 1408.0 L228.9 1408.9 L230.9 1409.5 L232.9 1409.8 L234.9 1410.0 L236.9 1409.9 L238.9 1409.6 L240.9 1409.1 L242.9 1408.5 L244.9 1407.7 L246.9 1406.9 L248.9 1405.9 L250.9 1404.8 L252.9 1403.6 L254.9 1402.3 L256.9 1400.8 L258.9 1399.3 L260.9 1397.7 L262.9 1396.0 L264.9 1394.1 L266.9 1392.1 L268.9 1389.8 L270.9 1387.4 L272.9 1385.0 L274.9 1382.3 L276.9 1379.4 L278.9 1376.2 L280.9 1372.9 L282.9 1369.6 L284.9 1366.2 L286.9 1363.0 L288.9 1359.9 L290.9 1356.9 L292.9 1353.8 L294.9 1350.7 L296.9 1347.4 L298.9 1343.9 L300.9 1340.3 L302.9 1336.6 L304.9 1332.9 L306.9 1329.1 L308.9 1325.4 L310.9 1321.8 L312.9 1318.4 L314.9 1315.3 L316.9 1312.4 L318.9 1309.6 L320.9 1306.9 L322.9 1304.0 L324.9 1301.0 L326.9 1297.8 L328.9 1294.7 L330.9 1291.7 L332.9 1289.0 L334.9 1286.6 L336.9 1284.6 L338.9 1282.7 L340.9 1281.0 L342.9 1279.4 L344.9 1277.9 L346.9 1276.6 L348.9 1275.5 L350.9 1274.3 L352.9 1273.2 L354.9 1272.1 L356.9 1271.0 L358.9 1270.0 L360.9 1269.0 L362.9 1268.1 L364.9 1267.2 L366.9 1266.3 L368.9 1265.4 L370.9 1264.5 L372.9 1263.7 L374.9 1262.8 L376.9 1261.9 L378.9 1261.1 L380.9 1260.3 L382.9 1259.4 L384.9 1258.6 L386.9 1257.8 L388.9 1256.9 L390.9 1256.1 L392.9 1255.2 L394.9 1254.3 L396.9 1253.3 L398.9 1252.2 L400.9 1251.1 L402.9 1250.0 L404.9 1248.9 L406.9 1247.8 L408.9 1246.7 L410.9 1245.4 L412.9 1244.0 L414.9 1242.6 L416.9 1241.1 L418.9 1239.6 L420.9 1238.1 L422.9 1236.6 L424.9 1235.1 L426.9 1233.5 L428.9 1231.9 L430.9 1230.4 L432.9 1228.8 L434.9 1227.2 L436.9 1225.6 L438.9 1224.0 L440.9 1222.3 L442.9 1220.6 L444.9 1218.9 L446.9 1217.1 L448.9 1215.3 L450.9 1213.6 L452.9 1211.8 L454.9 1210.0 L456.9 1208.4 L458.9 1206.9 L460.9 1205.6 L462.9 1204.4 L464.9 1203.3 L466.9 1202.2 L468.9 1201.1 L470.9 1200.0 L472.9 1199.1 L474.9 1198.2 L476.9 1197.6 L478.9 1197.0 L480.9 1196.5 L482.9 1196.0 L484.9 1195.5 L486.9 1195.1 L488.9 1194.8 L490.9 1194.7 L492.9 1194.9 L494.9 1195.2 L496.9 1195.6 L498.9 1196.0 L500.9 1196.4 L502.9 1196.9 L504.9 1197.5 L506.9 1198.3 L508.9 1199.4 L510.9 1200.5 L512.9 1201.7 L514.9 1202.9 L516.9 1204.1 L518.9 1205.3 L520.9 1206.6 L522.9 1207.9 L524.9 1209.2 L526.9 1210.6 L528.9 1212.0 L530.9 1213.4 L532.9 1214.8 L534.9 1216.2 L536.9 1217.6 L538.9 1219.0 L540.9 1220.4 L542.9 1221.8 L544.9 1223.2 L546.9 1224.6 L548.9 1226.0 L550.9 1227.3 L552.9 1228.5 L554.9 1229.5 L556.9 1230.4 L558.9 1231.3 L560.9 1232.1 L562.9 1232.9 L564.9 1233.7 L566.9 1234.5 L568.9 1235.3 L570.9 1236.0 L572.9 1236.7 L574.9 1237.4 L576.9 1238.1 L578.9 1238.8 L580.9 1239.5 L582.9 1240.2 L584.9 1240.8 L586.9 1241.5 L588.9 1242.1 L590.9 1242.7 L592.9 1243.3 L594.9 1243.9 L596.9 1244.6 L598.9 1245.2 L600.9 1245.9 L602.9 1246.6 L604.9 1247.4 L606.9 1248.2 L608.9 1248.9 L610.9 1249.7 L612.9 1250.5 L614.9 1251.4 L616.9 1252.2 L618.9 1253.1 L620.9 1253.9 L622.9 1254.8 L624.9 1255.7 L626.9 1256.6 L628.9 1257.6 L630.9 1258.5 L632.9 1259.6 L634.9 1260.8 L636.9 1262.1 L638.9 1263.3 L640.9 1264.6 L642.9 1265.9 L644.9 1267.2 L646.9 1268.4 L648.9 1269.6 L650.9 1270.7 L652.9 1271.7 L654.9 1272.7 L656.9 1273.7 L658.9 1274.7 L660.9 1275.7 L662.9 1276.7 L664.9 1277.8 L666.9 1279.1 L668.9 1280.5 L670.9 1282.0 L672.9 1283.6 L674.9 1285.2 L676.9 1286.9 L678.9 1288.6 L680.9 1290.4 L682.9 1292.2 L684.9 1293.9 L686.9 1295.6 L688.9 1297.2 L690.9 1298.8 L692.9 1300.4 L694.9 1302.1 L696.9 1304.1 L698.9 1306.2 L700.9 1308.4 L702.9 1310.7 L704.9 1313.1 L706.9 1315.4 L708.9 1317.8 L710.9 1320.1 L712.9 1322.4 L714.9 1324.6 L716.9 1326.7 L718.9 1328.7 L720.9 1330.6 L722.9 1332.5 L724.9 1334.2 L726.9 1336.0 L728.9 1337.7 L730.9 1339.5 L732.9 1341.3 L734.9 1343.1 L736.9 1344.9 L738.9 1346.8 L740.9 1348.7 L742.9 1350.6 L744.9 1352.1 L746.9 1353.3 L748.9 1354.3 L750.9 1355.0 L752.9 1355.7 L754.9 1356.4 L756.9 1357.1 L758.9 1357.8 L760.9 1358.6 L762.9 1359.2 L764.9 1359.9 L766.9 1360.5 L768.9 1361.1 L770.9 1361.6 L772.9 1362.0 L774.9 1362.5 L776.9 1362.8 L778.9 1363.1 L780.9 1363.3 L782.9 1363.5 L784.9 1363.7 L786.9 1363.7 L788.9 1363.7 L790.9 1363.7 L792.9 1363.6 L794.9 1363.5 L796.9 1363.4 L798.9 1363.2 L800.9 1363.0 L802.9 1362.8 L804.9 1362.6 L806.9 1362.3 L808.9 1362.0 L810.9 1361.5 L812.9 1361.0 L814.9 1360.5 L816.9 1359.8 L818.9 1358.9 L820.9 1357.9 L822.9 1356.7 L824.9 1355.5 L826.9 1354.2 L828.9 1352.8 L830.9 1351.4 L832.9 1349.8 L834.9 1348.2 L836.9 1346.7 L838.9 1345.2 L840.9 1343.7 L842.9 1342.3 L844.9 1340.8 L846.9 1339.2 L848.9 1337.5 L850.9 1335.4 L852.9 1333.2 L854.9 1330.7 L856.9 1328.2 L858.9 1325.6 L860.9 1323.1 L862.9 1320.7 L864.9 1318.5 L866.9 1316.6 L868.9 1314.8 L870.9 1313.2 L872.9 1311.7 L874.9 1310.4 L876.9 1309.2 L878.9 1308.2 L880.9 1307.2 L882.9 1306.3 L884.9 1305.5 L886.9 1304.7 L888.9 1303.9 L890.9 1303.2 L892.9 1302.6 L894.9 1302.0 L896.9 1301.7 L898.9 1301.5 L900.9 1301.4 L902.9 1301.5 L904.9 1301.6 L906.9 1301.9 L908.9 1302.4 L910.9 1303.0 L912.9 1303.8 L914.9 1304.6 L916.9 1305.5 L918.9 1306.6 L920.9 1307.8 L922.9 1309.1 L924.9 1310.5 L926.9 1312.1 L928.9 1313.8 L930.9 1315.7 L932.9 1317.6 L934.9 1319.5 L936.9 1321.4 L938.9 1323.1 L940.9 1324.7 L942.9 1326.3 L944.9 1327.8 L946.9 1329.3 L948.9 1330.9 L950.9 1332.6 L952.9 1334.2 L954.9 1335.9 L956.9 1337.5 L958.9 1339.0 L960.9 1340.5 L962.9 1342.0 L964.9 1343.4 L966.9 1344.7 L968.9 1345.8 L970.9 1346.9 L972.9 1347.8 L974.9 1348.6 L976.9 1349.3 L978.9 1350.0 L980.9 1350.5 L982.9 1350.9 L984.9 1351.2 L986.9 1351.4 L988.9 1351.6 L990.9 1351.6 L992.9 1351.5 L994.9 1351.4 L996.9 1351.2 L998.9 1351.0 L1000.9 1350.7 L1002.9 1350.4 L1004.9 1350.0 L1006.9 1349.6 L1008.9 1349.1 L1010.9 1348.5 L1012.9 1347.9 L1014.9 1347.2 L1016.9 1346.4 L1018.9 1345.6 L1020.9 1344.8 L1022.9 1343.9 L1024.9 1343.0 L1026.9 1342.1 L1028.9 1341.2 L1030.9 1340.4 L1032.9 1339.5 L1034.9 1338.7 L1036.9 1337.9 L1038.9 1337.0 L1040.9 1336.1 L1042.9 1335.2 L1044.9 1334.1 L1046.9 1332.9 L1048.9 1331.8 L1050.9 1330.6 L1052.9 1329.4 L1054.9 1328.3 L1056.9 1327.1 L1058.9 1326.0 L1060.9 1324.9 L1062.9 1323.8 L1064.9 1322.6 L1066.9 1321.4 L1068.9 1320.2 L1070.9 1319.0 L1072.9 1317.8 L1074.9 1316.5 L1076.9 1315.2 L1078.9 1313.9 L1080.9 1312.6 L1082.9 1311.4 L1084.9 1310.1 L1086.9 1308.9 L1088.9 1307.7 L1090.9 1306.5 L1092.9 1305.2 L1094.9 1304.0 L1096.9 1302.6 L1098.9 1301.2 L1100.9 1299.8 L1102.9 1298.3 L1104.9 1296.7 L1106.9 1295.1 L1108.9 1293.3 L1110.9 1291.5 L1112.9 1289.7 L1114.9 1287.8 L1116.9 1285.9 L1118.9 1283.9 L1120.9 1281.9 L1122.9 1279.9 L1124.9 1277.9 L1126.9 1275.8 L1128.9 1273.6 L1130.9 1271.4 L1132.9 1269.3 L1134.9 1267.4 L1136.9 1265.6 L1138.9 1263.9 L1140.9 1262.0 L1142.9 1259.9 L1144.9 1257.7 L1146.9 1255.4 L1148.9 1253.1 L1150.9 1250.8 L1152.9 1248.5 L1154.9 1246.1 L1156.9 1243.7 L1158.9 1241.3 L1160.9 1238.6 L1162.9 1235.8 L1164.9 1232.9 L1166.9 1229.9 L1168.9 1226.9 L1170.9 1223.9 L1172.9 1220.9 L1174.9 1217.9 L1176.9 1215.0 L1178.9 1212.2 L1180.9 1209.6 L1182.9 1207.1 L1184.9 1204.7 L1186.9 1202.3 L1188.9 1199.9 L1190.9 1197.5 L1192.9 1195.0 L1194.9 1192.5 L1196.9 1189.8 L1198.9 1187.1 L1200.9 1184.3 L1202.9 1181.6 L1204.9 1178.8 L1206.9 1176.0 L1208.9 1173.3 L1210.9 1170.8 L1212.9 1168.4 L1214.9 1166.2 L1216.9 1164.0 L1218.9 1161.9 L1220.9 1159.8 L1222.9 1157.9 L1224.9 1156.0 L1226.9 1154.3 L1228.9 1152.6 L1230.9 1151.0 L1232.9 1149.4 L1234.9 1147.8 L1236.9 1146.4 L1238.9 1145.0 L1240.9 1143.7 L1242.9 1142.5 L1244.9 1141.3 L1246.9 1140.1 L1248.9 1139.0 L1250.9 1138.1 L1252.9 1137.2 L1254.9 1136.4 L1256.9 1135.6 L1258.9 1134.8 L1260.9 1134.0 L1262.9 1133.2 L1264.9 1132.4 L1266.9 1131.7 L1268.9 1131.0 L1270.9 1130.3 L1272.9 1129.6 L1274.9 1128.9 L1276.9 1128.2 L1278.9 1127.6 L1280.9 1127.1 L1282.9 1126.8 L1284.9 1126.5 L1286.9 1126.3 L1288.9 1126.1 L1290.9 1125.9 L1292.9 1125.8 L1294.9 1125.7 L1296.9 1125.8 L1298.9 1126.0 L1300.9 1126.3 L1302.9 1126.7 L1304.9 1127.1 L1306.9 1127.5 L1308.9 1127.9 L1310.9 1128.4 L1312.9 1129.1 L1314.9 1129.8 L1316.9 1130.6 L1318.9 1131.5 L1320.9 1132.5 L1322.9 1133.5 L1324.9 1134.8 L1326.9 1136.4 L1328.9 1138.3 L1330.9 1140.2 L1332.9 1142.2 L1334.9 1144.3 L1336.9 1146.4 L1338.9 1148.6 L1340.9 1150.9 L1342.9 1153.3 L1344.9 1155.7 L1346.9 1158.1 L1348.9 1160.6 L1350.9 1163.1 L1352.9 1165.7 L1354.9 1168.6 L1356.9 1171.6 L1358.9 1174.8 L1360.9 1178.0 L1362.9 1181.1 L1364.9 1184.3 L1366.9 1187.3 L1368.9 1190.2 L1370.9 1192.8 L1372.9 1195.1 L1374.9 1197.4 L1376.9 1199.6 L1378.9 1201.8 L1380.9 1204.0 L1382.9 1206.1 L1384.9 1208.0 L1386.9 1209.7 L1388.9 1211.2 L1390.9 1212.7 L1392.9 1214.1 L1394.9 1215.5 L1396.9 1216.8 L1398.9 1218.1 L1400.9 1219.3 L1402.9 1220.3 L1404.9 1221.2 L1406.9 1222.0 L1408.9 1222.8 L1410.9 1223.6 L1412.9 1224.4 L1414.9 1225.2 L1416.9 1225.9 L1418.9 1226.5 L1420.9 1227.2 L1422.9 1227.8 L1424.9 1228.4 L1426.9 1229.0 L1428.9 1229.6 L1430.9 1230.2 L1432.9 1230.8 L1434.9 1231.4 L1436.9 1232.0 L1438.9 1232.6 L1440.9 1233.2 L1442.9 1233.8 L1444.9 1234.4 L1446.9 1235.1 L1448.9 1235.9 L1450.9 1236.8 L1452.9 1237.7 L1454.9 1238.7 L1456.9 1239.8 L1458.9 1240.9 L1460.9 1242.1 L1462.9 1243.6 L1464.9 1245.2 L1466.9 1246.9 L1468.9 1248.6 L1470.9 1250.5 L1472.9 1252.6 L1474.9 1254.9 L1476.9 1257.5 L1478.9 1260.7 L1480.9 1264.6 L1482.9 1269.4 L1484.9 1274.6 L1486.9 1280.1 L1488.9 1285.6 L1490.9 1291.1 L1492.9 1296.5 L1494.9 1301.9 L1496.9 1307.3 L1498.9 1312.5 L1500.9 1317.6 L1502.9 1322.6 L1504.9 1327.6 L1506.9 1332.6 L1508.9 1337.6 L1510.9 1343.0 L1512.9 1348.7 L1514.9 1354.5 L1516.9 1360.4 L1518.9 1366.0 L1520.9 1371.3 L1522.9 1376.1 L1524.9 1380.2 L1526.9 1383.8 L1528.9 1386.9 L1530.9 1389.9 L1532.9 1392.7 L1534.9 1395.4 L1536.9 1397.9 L1538.9 1400.3 L1540.9 1402.3 L1542.9 1404.1 L1544.9 1405.6 L1546.9 1406.9 L1548.9 1408.0 L1550.9 1408.8 L1552.9 1409.4 L1554.9 1409.6 L1556.9 1409.4 L1558.9 1408.9 L1560.9 1408.1 L1562.9 1407.2 L1564.9 1406.0 L1566.9 1404.6 L1568.9 1403.1 L1570.9 1401.5 L1572.9 1399.7 L1574.9 1397.6 L1576.9 1395.2 L1578.9 1392.2 L1580.9 1388.8 L1582.9 1385.0 L1584.9 1381.2 L1586.9 1377.5 L1588.9 1373.9 L1590.9 1370.3 L1592.9 1366.8 L1594.9 1363.6 L1596.9 1360.5 L1598.9 1357.6 L1600.9 1354.8 L1602.9 1351.8 L1604.9 1348.7 L1606.9 1345.3 L1608.9 1341.6 L1610.9 1337.9 L1612.9 1334.1 L1614.9 1330.3 L1616.9 1326.5 L1618.9 1322.7 L1620.9 1318.9 L1622.9 1315.1 L1624.9 1311.4 L1626.9 1307.7 L1628.9 1304.0 L1630.9 1300.4 L1632.9 1296.8 L1634.9 1293.4 L1636.9 1290.0 L1638.9 1286.8 L1640.9 1283.8 L1642.9 1280.7 L1644.9 1277.6 L1646.9 1274.5 L1648.9 1271.2 L1650.9 1267.9 L1652.9 1264.5 L1654.9 1261.2 L1656.9 1258.0 L1658.9 1254.9 L1660.9 1251.9 L1662.9 1249.0 L1664.9 1246.1 L1666.9 1243.2 L1668.9 1240.3 L1670.9 1237.3 L1672.9 1234.2 L1674.9 1231.1 L1676.9 1227.9 L1678.9 1224.7 L1680.9 1221.5 L1682.9 1218.3 L1684.9 1215.1 L1686.9 1211.9 L1688.9 1208.7 L1690.9 1205.5 L1692.9 1202.3 L1694.9 1199.1 L1696.9 1195.9 L1698.9 1192.7 L1700.9 1189.7 L1702.9 1186.7 L1704.9 1183.9 L1706.9 1181.3 L1708.9 1178.8 L1710.9 1176.3 L1712.9 1173.8 L1714.9 1171.3 L1716.9 1169.0 L1718.9 1166.8 L1720.9 1164.8 L1722.9 1163.0 L1724.9 1161.2 L1726.9 1159.5 L1728.9 1157.9 L1730.9 1156.2 L1732.9 1154.6 L1734.9 1153.2 L1736.9 1152.0 L1738.9 1150.8 L1740.9 1149.8 L1742.9 1148.7 L1744.9 1147.7 L1746.9 1146.7 L1748.9 1145.8 L1750.9 1145.1 L1752.9 1144.6 L1754.9 1144.3 L1756.9 1144.0 L1758.9 1143.8 L1760.9 1143.7 L1762.9 1143.7 L1764.9 1144.0 L1766.9 1144.5 L1768.9 1145.1 L1770.9 1145.7 L1772.9 1146.4 L1774.9 1147.1 L1776.9 1147.9 L1778.9 1148.7 L1780.9 1149.5 L1782.9 1150.3 L1784.9 1151.1 L1786.9 1152.0 L1788.9 1152.9 L1790.9 1154.0 L1792.9 1155.2 L1794.9 1156.6 L1796.9 1157.9 L1798.9 1159.3 L1800.9 1160.7 L1802.9 1162.1 L1804.9 1163.6 L1806.9 1165.1 L1808.9 1166.6 L1810.9 1168.2 L1812.9 1169.8 L1814.9 1171.4 L1816.9 1173.0 L1818.9 1174.7 L1820.9 1176.5 L1822.9 1178.4 L1824.9 1180.5 L1826.9 1182.6 L1828.9 1184.8 L1830.9 1187.0 L1832.9 1189.3 L1834.9 1191.5 L1836.9 1193.7 L1838.9 1196.0 L1840.9 1198.3 L1842.9 1200.7 L1844.9 1203.1 L1846.9 1205.5 L1848.9 1208.1 L1850.9 1210.8 L1852.9 1213.7 L1854.9 1216.8 L1856.9 1219.9 L1858.9 1223.0 L1860.9 1226.1 L1862.9 1229.1 L1864.9 1232.1 L1866.9 1235.0 L1868.9 1237.9 L1870.9 1240.7 L1872.9 1243.5 L1874.9 1246.2 L1876.9 1248.8 L1878.9 1251.4 L1880.9 1254.0 L1882.9 1256.6 L1884.9 1259.3 L1886.9 1262.1 L1888.9 1265.0 L1890.9 1267.9 L1892.9 1270.8 L1894.9 1273.7 L1896.9 1276.5 L1898.9 1279.2 L1900.9 1281.9 L1902.9 1284.5 L1904.9 1287.1 L1906.9 1289.7 L1908.9 1292.1 L1910.9 1294.3 L1912.9 1296.2 L1914.9 1298.0 L1916.9 1299.7 L1918.9 1301.4 L1920.9 1303.0 L1922.9 1304.6 L1924.9 1306.3 L1926.9 1307.9 L1928.9 1309.4 L1930.9 1311.0 L1932.9 1312.4 L1934.9 1313.8 L1936.9 1315.0 L1938.9 1316.2 L1940.9 1317.4 L1942.9 1318.4 L1944.9 1319.2 L1946.9 1320.0 L1948.9 1320.6 L1950.9 1321.1 L1952.9 1321.6 L1954.9 1322.0 L1956.9 1322.2 L1958.9 1322.4 L1960.9 1322.5 L1962.9 1322.6 L1964.9 1322.6 L1966.9 1322.5 L1968.9 1322.3 L1970.9 1322.1 L1972.9 1321.9 L1974.9 1321.8 L1976.9 1321.6 L1978.9 1321.5 L1980.9 1321.4 L1982.9 1321.2 L1984.9 1321.1 L1986.9 1321.0 L1988.9 1320.9 L1990.9 1320.8 L1992.9 1320.8 L1994.9 1320.8 L1996.9 1320.9 L1998.9 1321.0 L2000.9 1321.1 L2002.9 1321.3 L2004.9 1321.5 L2006.9 1321.7 L2008.9 1322.0 L2010.9 1322.2 L2012.9 1322.5 L2014.9 1322.8 L2016.9 1323.1 L2018.9 1323.3 L2020.9 1323.6 L2022.9 1323.9 L2024.9 1324.1 L2026.9 1324.3 L2028.9 1324.5 L2030.9 1324.7 L2032.9 1324.9 L2034.9 1325.0 L2036.9 1325.2 L2038.9 1325.3 L2040.9 1325.4 L2042.9 1325.5 L2044.9 1325.5 L2046.9 1325.4 L2048.9 1325.4 L2050.9 1325.2 L2052.9 1325.1 L2054.9 1324.9 L2056.9 1324.6 L2058.9 1324.3 L2060.9 1323.9 L2062.9 1323.6 L2064.9 1323.2 L2066.9 1322.7 L2068.9 1322.2 L2070.9 1321.7 L2072.9 1321.1 L2074.9 1320.4 L2076.9 1319.6 L2078.9 1318.7 L2080.9 1317.7 L2082.9 1316.8 L2084.9 1315.8 L2086.9 1314.8 L2088.9 1313.8 L2090.9 1312.8 L2092.9 1311.8 L2094.9 1310.8 L2096.9 1309.8 L2098.9 1308.8 L2100.9 1307.8 L2102.9 1306.8 L2104.9 1305.7 L2106.9 1304.5 L2108.9 1303.3 L2110.9 1302.0 L2112.9 1300.7 L2114.9 1299.4 L2116.9 1298.1 L2118.9 1296.8 L2120.9 1295.5 L2122.9 1294.2 L2124.9 1292.9 L2126.9 1291.5 L2128.9 1290.0 L2130.9 1288.6 L2132.9 1287.0 L2134.9 1285.5 L2136.9 1283.8 L2138.9 1282.0 L2140.9 1280.2 L2142.9 1278.3 L2144.9 1276.3 L2146.9 1274.3 L2148.9 1272.1 L2150.9 1269.9 L2152.9 1267.6 L2154.9 1265.3 L2156.9 1263.0 L2158.9 1260.6 L2160.9 1258.3 L2162.9 1255.9 L2164.9 1253.5 L2166.9 1251.0 L2168.9 1248.5 L2170.9 1245.9 L2172.9 1243.2 L2174.9 1240.3 L2176.9 1237.2 L2178.9 1233.8 L2180.9 1230.3 L2182.9 1227.0 L2184.9 1223.9 L2186.9 1221.1 L2188.9 1218.3 L2190.9 1215.6 L2192.9 1212.8 L2194.9 1209.9 L2196.9 1206.9 L2198.9 1203.9 L2200.9 1200.9 L2202.9 1197.9 L2204.9 1195.1 L2206.9 1192.4 L2208.9 1189.9 L2210.9 1187.5 L2212.9 1185.2 L2214.9 1182.9 L2216.9 1180.8 L2218.9 1178.9 L2220.9 1177.2 L2222.9 1175.6 L2224.9 1174.0 L2226.9 1172.5 L2228.9 1171.1 L2230.9 1169.7 L2232.9 1168.5 L2234.9 1167.4 L2236.9 1166.6 L2238.9 1165.9 L2240.9 1165.4 L2242.9 1165.1 L2244.9 1164.9 L2246.9 1164.9 L2248.9 1165.1 L2250.9 1165.4 L2252.9 1165.9 L2254.9 1166.6 L2256.9 1167.4 L2258.9 1168.4 L2260.9 1169.6 L2262.9 1171.0 L2264.9 1172.5 L2266.9 1174.1 L2268.9 1175.9 L2270.9 1177.8 L2272.9 1179.8 L2274.9 1181.9 L2276.9 1184.0 L2278.9 1186.3 L2280.9 1188.8 L2282.9 1191.3 L2284.9 1193.7 L2286.9 1195.9 L2288.9 1198.1 L2290.9 1200.4 L2292.9 1202.6 L2294.9 1204.8 L2296.9 1207.2 L2298.9 1209.9 L2300.9 1212.6 L2302.9 1215.3 L2304.9 1217.8 L2306.9 1220.1 L2308.9 1222.3 L2310.9 1224.5 L2312.9 1226.5 L2314.9 1228.2 L2315.9 1228.8" fill="none" stroke="#ff9800" stroke-width="1.8" stroke-linejoin="round" stroke-linecap="round"/>
<path d="M18.9 1377.0 L20.9 1376.5 L22.9 1375.7 L24.9 1374.9 L26.9 1374.1 L28.9 1373.2 L30.9 1372.4 L32.9 1371.5 L34.9 1370.4 L36.9 1369.3 L38.9 1368.0 L40.9 1366.6 L42.9 1365.1 L44.9 1363.6 L46.9 1362.2 L48.9 1360.7 L50.9 1359.3 L52.9 1358.0 L54.9 1356.8 L56.9 1355.5 L58.9 1354.3 L60.9 1353.1 L62.9 1351.9 L64.9 1350.8 L66.9 1349.6 L68.9 1348.6 L70.9 1347.5 L72.9 1346.5 L74.9 1345.5 L76.9 1344.5 L78.9 1343.5 L80.9 1342.5 L82.9 1341.5 L84.9 1340.5 L86.9 1339.5 L88.9 1338.5 L90.9 1337.5 L92.9 1336.5 L94.9 1335.5 L96.9 1334.6 L98.9 1333.6 L100.9 1332.8 L102.9 1332.0 L104.9 1331.2 L106.9 1330.4 L108.9 1329.6 L110.9 1328.8 L112.9 1328.0 L114.9 1327.3 L116.9 1326.5 L118.9 1325.8 L120.9 1325.1 L122.9 1324.5 L124.9 1323.9 L126.9 1323.4 L128.9 1322.9 L130.9 1322.6 L132.9 1322.4 L134.9 1322.5 L136.9 1323.0 L138.9 1323.8 L140.9 1324.8 L142.9 1326.0 L144.9 1327.5 L146.9 1329.3 L148.9 1331.5 L150.9 1333.9 L152.9 1336.6 L154.9 1339.5 L156.9 1342.7 L158.9 1346.4 L160.9 1350.2 L162.9 1354.2 L164.9 1358.3 L166.9 1362.5 L168.9 1366.8 L170.9 1371.2 L172.9 1375.5 L174.9 1379.9 L176.9 1384.2 L178.9 1388.5 L180.9 1392.7 L182.9 1396.9 L184.9 1400.9 L186.9 1404.7 L188.9 1408.2 L190.9 1411.4 L192.9 1414.4 L194.9 1417.2 L196.9 1419.7 L198.9 1421.9 L200.9 1423.8 L202.9 1425.5 L204.9 1427.0 L206.9 1428.3 L208.9 1429.4 L210.9 1430.3 L212.9 1430.8 L214.9 1431.0 L216.9 1430.8 L218.9 1430.4 L220.9 1429.7 L222.9 1428.7 L224.9 1427.5 L226.9 1426.0 L228.9 1424.4 L230.9 1422.6 L232.9 1420.6 L234.9 1418.2 L236.9 1415.7 L238.9 1412.8 L240.9 1409.7 L242.9 1406.4 L244.9 1403.0 L246.9 1399.4 L248.9 1396.0 L250.9 1392.6 L252.9 1389.5 L254.9 1386.5 L256.9 1383.4 L258.9 1380.0 L260.9 1376.1 L262.9 1371.8 L264.9 1367.2 L266.9 1362.4 L268.9 1357.5 L270.9 1352.5 L272.9 1347.5 L274.9 1342.6 L276.9 1338.0 L278.9 1333.5 L280.9 1329.2 L282.9 1325.0 L284.9 1320.8 L286.9 1316.8 L288.9 1312.7 L290.9 1308.6 L292.9 1304.5 L294.9 1300.3 L296.9 1296.2 L298.9 1292.1 L300.9 1288.2 L302.9 1284.3 L304.9 1280.6 L306.9 1277.1 L308.9 1273.6 L310.9 1270.4 L312.9 1267.5 L314.9 1264.9 L316.9 1262.5 L318.9 1260.3 L320.9 1258.3 L322.9 1256.4 L324.9 1254.7 L326.9 1253.2 L328.9 1251.9 L330.9 1250.8 L332.9 1249.7 L334.9 1248.9 L336.9 1248.3 L338.9 1248.0 L340.9 1247.8 L342.9 1247.6 L344.9 1247.5 L346.9 1247.6 L348.9 1247.8 L350.9 1248.1 L352.9 1248.6 L354.9 1249.1 L356.9 1249.6 L358.9 1250.0 L360.9 1250.5 L362.9 1250.8 L364.9 1251.2 L366.9 1251.5 L368.9 1251.8 L370.9 1252.0 L372.9 1252.0 L374.9 1251.7 L376.9 1251.3 L378.9 1250.7 L380.9 1250.1 L382.9 1249.4 L384.9 1248.5 L386.9 1247.3 L388.9 1245.9 L390.9 1244.4 L392.9 1242.7 L394.9 1241.1 L396.9 1239.4 L398.9 1237.7 L400.9 1235.9 L402.9 1234.0 L404.9 1232.2 L406.9 1230.3 L408.9 1228.4 L410.9 1226.4 L412.9 1224.4 L414.9 1222.2 L416.9 1220.1 L418.9 1217.9 L420.9 1215.8 L422.9 1213.7 L424.9 1211.7 L426.9 1209.8 L428.9 1207.9 L430.9 1206.1 L432.9 1204.3 L434.9 1202.5 L436.9 1200.8 L438.9 1199.3 L440.9 1197.7 L442.9 1196.2 L444.9 1194.7 L446.9 1193.2 L448.9 1191.6 L450.9 1189.9 L452.9 1188.2 L454.9 1186.5 L456.9 1184.8 L458.9 1183.2 L460.9 1181.8 L462.9 1180.8 L464.9 1180.0 L466.9 1179.5 L468.9 1179.2 L470.9 1179.2 L472.9 1179.5 L474.9 1180.1 L476.9 1181.0 L478.9 1182.1 L480.9 1183.5 L482.9 1185.2 L484.9 1187.1 L486.9 1189.2 L488.9 1191.3 L490.9 1193.5 L492.9 1195.6 L494.9 1197.8 L496.9 1200.1 L498.9 1202.3 L500.9 1204.5 L502.9 1206.7 L504.9 1209.0 L506.9 1211.1 L508.9 1213.3 L510.9 1215.5 L512.9 1217.6 L514.9 1219.7 L516.9 1221.9 L518.9 1224.0 L520.9 1226.1 L522.9 1228.1 L524.9 1230.2 L526.9 1232.2 L528.9 1234.2 L530.9 1235.9 L532.9 1237.5 L534.9 1238.8 L536.9 1240.0 L538.9 1241.2 L540.9 1242.3 L542.9 1243.3 L544.9 1244.2 L546.9 1244.8 L548.9 1245.4 L550.9 1245.8 L552.9 1246.3 L554.9 1246.7 L556.9 1247.0 L558.9 1247.2 L560.9 1247.3 L562.9 1247.4 L564.9 1247.5 L566.9 1247.5 L568.9 1247.6 L570.9 1247.8 L572.9 1248.0 L574.9 1248.3 L576.9 1248.7 L578.9 1249.1 L580.9 1249.6 L582.9 1250.1 L584.9 1250.6 L586.9 1251.3 L588.9 1252.0 L590.9 1252.8 L592.9 1253.6 L594.9 1254.4 L596.9 1255.2 L598.9 1256.0 L600.9 1256.9 L602.9 1257.8 L604.9 1258.8 L606.9 1259.8 L608.9 1260.8 L610.9 1261.8 L612.9 1262.8 L614.9 1263.8 L616.9 1264.8 L618.9 1265.9 L620.9 1267.0 L622.9 1268.1 L624.9 1269.2 L626.9 1270.4 L628.9 1271.5 L630.9 1272.7 L632.9 1274.0 L634.9 1275.4 L636.9 1276.8 L638.9 1278.4 L640.9 1280.1 L642.9 1281.8 L644.9 1283.4 L646.9 1285.0 L648.9 1286.4 L650.9 1287.9 L652.9 1289.2 L654.9 1290.6 L656.9 1291.8 L658.9 1292.9 L660.9 1294.0 L662.9 1295.2 L664.9 1296.5 L666.9 1298.1 L668.9 1299.9 L670.9 1301.9 L672.9 1304.0 L674.9 1306.3 L676.9 1308.6 L678.9 1311.1 L680.9 1313.5 L682.9 1315.9 L684.9 1318.4 L686.9 1320.7 L688.9 1322.9 L690.9 1325.0 L692.9 1327.0 L694.9 1329.2 L696.9 1331.6 L698.9 1334.2 L700.9 1337.1 L702.9 1340.0 L704.9 1343.1 L706.9 1346.2 L708.9 1349.4 L710.9 1352.5 L712.9 1355.5 L714.9 1358.4 L716.9 1361.0 L718.9 1363.3 L720.9 1365.1 L722.9 1366.5 L724.9 1367.7 L726.9 1368.6 L728.9 1369.3 L730.9 1370.0 L732.9 1370.7 L734.9 1371.3 L736.9 1371.8 L738.9 1372.3 L740.9 1372.8 L742.9 1373.2 L744.9 1373.6 L746.9 1373.8 L748.9 1374.0 L750.9 1374.1 L752.9 1374.1 L754.9 1374.0 L756.9 1373.7 L758.9 1373.4 L760.9 1372.9 L762.9 1372.4 L764.9 1371.8 L766.9 1371.3 L768.9 1370.6 L770.9 1369.9 L772.9 1369.3 L774.9 1368.6 L776.9 1368.0 L778.9 1367.5 L780.9 1366.9 L782.9 1366.4 L784.9 1365.9 L786.9 1365.3 L788.9 1364.7 L790.9 1364.0 L792.9 1363.3 L794.9 1362.5 L796.9 1361.7 L798.9 1360.8 L800.9 1359.9 L802.9 1358.9 L804.9 1357.9 L806.9 1356.8 L808.9 1355.7 L810.9 1354.6 L812.9 1353.4 L814.9 1352.1 L816.9 1350.7 L818.9 1349.1 L820.9 1347.2 L822.9 1345.2 L824.9 1343.0 L826.9 1340.6 L828.9 1338.0 L830.9 1335.0 L832.9 1331.6 L834.9 1327.8 L836.9 1323.7 L838.9 1319.8 L840.9 1316.2 L842.9 1313.0 L844.9 1310.0 L846.9 1307.0 L848.9 1304.1 L850.9 1301.3 L852.9 1298.7 L854.9 1296.5 L856.9 1294.6 L858.9 1293.1 L860.9 1291.7 L862.9 1290.5 L864.9 1289.4 L866.9 1288.6 L868.9 1288.0 L870.9 1287.4 L872.9 1287.0 L874.9 1286.8 L876.9 1286.7 L878.9 1286.8 L880.9 1286.9 L882.9 1287.2 L884.9 1287.7 L886.9 1288.4 L888.9 1289.3 L890.9 1290.3 L892.9 1291.5 L894.9 1292.7 L896.9 1294.2 L898.9 1295.8 L900.9 1297.5 L902.9 1299.5 L904.9 1301.6 L906.9 1304.0 L908.9 1306.6 L910.9 1309.2 L912.9 1311.9 L914.9 1314.6 L916.9 1317.4 L918.9 1320.3 L920.9 1323.3 L922.9 1326.3 L924.9 1329.3 L926.9 1332.4 L928.9 1335.5 L930.9 1338.6 L932.9 1341.8 L934.9 1344.8 L936.9 1347.7 L938.9 1350.2 L940.9 1352.5 L942.9 1354.6 L944.9 1356.6 L946.9 1358.3 L948.9 1359.8 L950.9 1361.1 L952.9 1362.2 L954.9 1363.2 L956.9 1364.0 L958.9 1364.7 L960.9 1365.2 L962.9 1365.6 L964.9 1365.9 L966.9 1366.0 L968.9 1366.0 L970.9 1365.7 L972.9 1365.2 L974.9 1364.7 L976.9 1364.0 L978.9 1363.1 L980.9 1361.9 L982.9 1360.6 L984.9 1359.2 L986.9 1357.7 L988.9 1356.1 L990.9 1354.6 L992.9 1352.9 L994.9 1351.2 L996.9 1349.5 L998.9 1347.8 L1000.9 1346.2 L1002.9 1344.7 L1004.9 1343.3 L1006.9 1342.0 L1008.9 1340.7 L1010.9 1339.5 L1012.9 1338.4 L1014.9 1337.4 L1016.9 1336.3 L1018.9 1335.3 L1020.9 1334.2 L1022.9 1333.0 L1024.9 1331.8 L1026.9 1330.5 L1028.9 1329.2 L1030.9 1327.8 L1032.9 1326.4 L1034.9 1324.8 L1036.9 1323.3 L1038.9 1321.7 L1040.9 1320.1 L1042.9 1318.6 L1044.9 1317.2 L1046.9 1315.8 L1048.9 1314.4 L1050.9 1313.0 L1052.9 1311.6 L1054.9 1310.2 L1056.9 1308.8 L1058.9 1307.4 L1060.9 1306.0 L1062.9 1304.7 L1064.9 1303.4 L1066.9 1302.2 L1068.9 1301.0 L1070.9 1299.7 L1072.9 1298.4 L1074.9 1297.1 L1076.9 1295.8 L1078.9 1294.4 L1080.9 1293.0 L1082.9 1291.6 L1084.9 1290.4 L1086.9 1289.1 L1088.9 1287.9 L1090.9 1286.7 L1092.9 1285.5 L1094.9 1284.3 L1096.9 1283.0 L1098.9 1281.7 L1100.9 1280.3 L1102.9 1278.6 L1104.9 1276.6 L1106.9 1274.3 L1108.9 1271.7 L1110.9 1268.7 L1112.9 1265.6 L1114.9 1262.2 L1116.9 1258.8 L1118.9 1255.4 L1120.9 1252.3 L1122.9 1249.5 L1124.9 1247.1 L1126.9 1245.0 L1128.9 1242.9 L1130.9 1240.9 L1132.9 1238.8 L1134.9 1236.7 L1136.9 1234.4 L1138.9 1232.1 L1140.9 1229.7 L1142.9 1227.3 L1144.9 1224.9 L1146.9 1222.3 L1148.9 1219.6 L1150.9 1216.7 L1152.9 1213.7 L1154.9 1210.7 L1156.9 1207.7 L1158.9 1204.7 L1160.9 1201.6 L1162.9 1198.5 L1164.9 1195.4 L1166.9 1192.3 L1168.9 1189.2 L1170.9 1186.1 L1172.9 1183.1 L1174.9 1180.1 L1176.9 1177.2 L1178.9 1174.4 L1180.9 1171.5 L1182.9 1168.7 L1184.9 1165.9 L1186.9 1163.1 L1188.9 1160.4 L1190.9 1157.8 L1192.9 1155.1 L1194.9 1152.5 L1196.9 1149.9 L1198.9 1147.2 L1200.9 1144.5 L1202.9 1141.8 L1204.9 1139.2 L1206.9 1136.5 L1208.9 1134.0 L1210.9 1131.7 L1212.9 1129.7 L1214.9 1127.8 L1216.9 1126.1 L1218.9 1124.5 L1220.9 1123.0 L1222.9 1121.7 L1224.9 1120.7 L1226.9 1120.1 L1228.9 1119.6 L1230.9 1119.2 L1232.9 1118.9 L1234.9 1118.7 L1236.9 1118.7 L1238.9 1118.8 L1240.9 1119.1 L1242.9 1119.5 L1244.9 1119.8 L1246.9 1120.2 L1248.9 1120.5 L1250.9 1120.7 L1252.9 1120.8 L1254.9 1120.7 L1256.9 1120.6 L1258.9 1120.4 L1260.9 1120.2 L1262.9 1120.0 L1264.9 1119.8 L1266.9 1119.6 L1268.9 1119.4 L1270.9 1119.2 L1272.9 1119.0 L1274.9 1118.8 L1276.9 1118.6 L1278.9 1118.4 L1280.9 1118.3 L1282.9 1118.5 L1284.9 1118.9 L1286.9 1119.5 L1288.9 1120.4 L1290.9 1121.3 L1292.9 1122.3 L1294.9 1123.3 L1296.9 1124.5 L1298.9 1125.8 L1300.9 1127.2 L1302.9 1128.6 L1304.9 1130.0 L1306.9 1131.5 L1308.9 1133.1 L1310.9 1134.9 L1312.9 1136.8 L1314.9 1138.8 L1316.9 1140.9 L1318.9 1143.1 L1320.9 1145.4 L1322.9 1148.1 L1324.9 1151.3 L1326.9 1154.8 L1328.9 1158.6 L1330.9 1162.6 L1332.9 1166.6 L1334.9 1170.8 L1336.9 1175.2 L1338.9 1179.6 L1340.9 1184.1 L1342.9 1188.5 L1344.9 1192.8 L1346.9 1196.7 L1348.9 1200.5 L1350.9 1204.1 L1352.9 1207.6 L1354.9 1211.1 L1356.9 1214.5 L1358.9 1217.5 L1360.9 1220.1 L1362.9 1222.2 L1364.9 1224.1 L1366.9 1225.9 L1368.9 1227.6 L1370.9 1229.1 L1372.9 1230.4 L1374.9 1231.5 L1376.9 1232.3 L1378.9 1233.1 L1380.9 1233.9 L1382.9 1234.5 L1384.9 1235.1 L1386.9 1235.6 L1388.9 1236.0 L1390.9 1236.4 L1392.9 1236.7 L1394.9 1237.0 L1396.9 1237.2 L1398.9 1237.3 L1400.9 1237.2 L1402.9 1237.0 L1404.9 1236.8 L1406.9 1236.4 L1408.9 1236.1 L1410.9 1235.8 L1412.9 1235.6 L1414.9 1235.4 L1416.9 1235.3 L1418.9 1235.3 L1420.9 1235.2 L1422.9 1235.2 L1424.9 1235.2 L1426.9 1235.3 L1428.9 1235.6 L1430.9 1236.2 L1432.9 1237.0 L1434.9 1238.0 L1436.9 1239.1 L1438.9 1240.1 L1440.9 1241.2 L1442.9 1242.4 L1444.9 1243.5 L1446.9 1244.7 L1448.9 1245.9 L1450.9 1247.1 L1452.9 1248.4 L1454.9 1249.9 L1456.9 1252.0 L1458.9 1254.8 L1460.9 1258.2 L1462.9 1261.7 L1464.9 1265.3 L1466.9 1269.2 L1468.9 1273.9 L1470.9 1279.5 L1472.9 1285.6 L1474.9 1291.7 L1476.9 1298.0 L1478.9 1304.7 L1480.9 1312.1 L1482.9 1320.4 L1484.9 1329.1 L1486.9 1338.1 L1488.9 1347.4 L1490.9 1357.1 L1492.9 1367.1 L1494.9 1376.7 L1496.9 1385.4 L1498.9 1393.2 L1500.9 1400.3 L1502.9 1407.3 L1504.9 1414.0 L1506.9 1420.2 L1508.9 1425.5 L1510.9 1430.2 L1512.9 1434.4 L1514.9 1438.0 L1516.9 1441.0 L1518.9 1443.4 L1520.9 1445.3 L1522.9 1446.8 L1524.9 1447.8 L1526.9 1448.3 L1528.9 1448.4 L1530.9 1448.0 L1532.9 1447.2 L1534.9 1446.1 L1536.9 1444.7 L1538.9 1443.0 L1540.9 1441.1 L1542.9 1439.0 L1544.9 1436.5 L1546.9 1433.6 L1548.9 1430.3 L1550.9 1426.5 L1552.9 1422.3 L1554.9 1417.8 L1556.9 1413.2 L1558.9 1408.4 L1560.9 1403.6 L1562.9 1398.7 L1564.9 1393.8 L1566.9 1388.8 L1568.9 1383.8 L1570.9 1378.8 L1572.9 1374.0 L1574.9 1369.1 L1576.9 1364.2 L1578.9 1359.3 L1580.9 1354.2 L1582.9 1349.1 L1584.9 1343.9 L1586.9 1338.7 L1588.9 1333.5 L1590.9 1328.3 L1592.9 1323.1 L1594.9 1317.9 L1596.9 1312.9 L1598.9 1308.0 L1600.9 1303.5 L1602.9 1299.2 L1604.9 1295.1 L1606.9 1291.2 L1608.9 1287.3 L1610.9 1283.6 L1612.9 1279.9 L1614.9 1276.2 L1616.9 1272.2 L1618.9 1267.8 L1620.9 1263.2 L1622.9 1258.6 L1624.9 1254.7 L1626.9 1251.5 L1628.9 1248.7 L1630.9 1246.2 L1632.9 1243.6 L1634.9 1241.1 L1636.9 1238.6 L1638.9 1236.1 L1640.9 1233.5 L1642.9 1231.0 L1644.9 1228.4 L1646.9 1225.8 L1648.9 1223.2 L1650.9 1220.6 L1652.9 1217.9 L1654.9 1215.2 L1656.9 1212.5 L1658.9 1209.7 L1660.9 1207.0 L1662.9 1204.2 L1664.9 1201.5 L1666.9 1198.8 L1668.9 1196.0 L1670.9 1193.3 L1672.9 1190.4 L1674.9 1187.5 L1676.9 1184.3 L1678.9 1180.9 L1680.9 1177.3 L1682.9 1173.7 L1684.9 1170.1 L1686.9 1166.5 L1688.9 1163.1 L1690.9 1159.8 L1692.9 1156.7 L1694.9 1153.5 L1696.9 1150.5 L1698.9 1147.5 L1700.9 1144.8 L1702.9 1142.4 L1704.9 1140.3 L1706.9 1138.4 L1708.9 1136.5 L1710.9 1134.7 L1712.9 1133.0 L1714.9 1131.6 L1716.9 1130.4 L1718.9 1129.3 L1720.9 1128.3 L1722.9 1127.3 L1724.9 1126.6 L1726.9 1126.0 L1728.9 1125.8 L1730.9 1125.8 L1732.9 1125.9 L1734.9 1126.1 L1736.9 1126.5 L1738.9 1127.2 L1740.9 1128.1 L1742.9 1129.1 L1744.9 1130.2 L1746.9 1131.4 L1748.9 1132.5 L1750.9 1133.7 L1752.9 1134.9 L1754.9 1136.1 L1756.9 1137.4 L1758.9 1138.7 L1760.9 1140.1 L1762.9 1141.8 L1764.9 1143.7 L1766.9 1145.9 L1768.9 1148.2 L1770.9 1150.5 L1772.9 1152.9 L1774.9 1155.2 L1776.9 1157.4 L1778.9 1159.6 L1780.9 1161.7 L1782.9 1163.9 L1784.9 1166.0 L1786.9 1168.1 L1788.9 1170.2 L1790.9 1172.3 L1792.9 1174.4 L1794.9 1176.5 L1796.9 1178.6 L1798.9 1180.7 L1800.9 1182.8 L1802.9 1184.9 L1804.9 1186.9 L1806.9 1189.0 L1808.9 1191.0 L1810.9 1193.0 L1812.9 1195.0 L1814.9 1197.1 L1816.9 1199.4 L1818.9 1201.9 L1820.9 1204.8 L1822.9 1207.9 L1824.9 1211.0 L1826.9 1214.3 L1828.9 1217.5 L1830.9 1220.6 L1832.9 1223.6 L1834.9 1226.6 L1836.9 1229.5 L1838.9 1232.4 L1840.9 1235.2 L1842.9 1238.1 L1844.9 1241.0 L1846.9 1243.8 L1848.9 1246.7 L1850.9 1249.7 L1852.9 1252.8 L1854.9 1256.1 L1856.9 1259.6 L1858.9 1263.2 L1860.9 1266.8 L1862.9 1270.5 L1864.9 1274.3 L1866.9 1278.1 L1868.9 1281.9 L1870.9 1285.6 L1872.9 1288.8 L1874.9 1291.6 L1876.9 1293.9 L1878.9 1296.1 L1880.9 1298.4 L1882.9 1300.9 L1884.9 1303.6 L1886.9 1306.3 L1888.9 1309.0 L1890.9 1311.6 L1892.9 1313.9 L1894.9 1316.1 L1896.9 1318.2 L1898.9 1320.1 L1900.9 1322.0 L1902.9 1323.6 L1904.9 1325.1 L1906.9 1326.5 L1908.9 1327.7 L1910.9 1328.9 L1912.9 1329.9 L1914.9 1330.7 L1916.9 1331.4 L1918.9 1332.0 L1920.9 1332.5 L1922.9 1332.9 L1924.9 1333.1 L1926.9 1333.2 L1928.9 1333.2 L1930.9 1333.1 L1932.9 1333.0 L1934.9 1332.8 L1936.9 1332.4 L1938.9 1332.1 L1940.9 1331.6 L1942.9 1331.2 L1944.9 1330.8 L1946.9 1330.3 L1948.9 1329.8 L1950.9 1329.3 L1952.9 1328.7 L1954.9 1328.0 L1956.9 1327.2 L1958.9 1326.3 L1960.9 1325.4 L1962.9 1324.5 L1964.9 1323.6 L1966.9 1322.7 L1968.9 1321.8 L1970.9 1321.0 L1972.9 1320.2 L1974.9 1319.6 L1976.9 1319.3 L1978.9 1319.1 L1980.9 1318.9 L1982.9 1318.8 L1984.9 1318.6 L1986.9 1318.5 L1988.9 1318.6 L1990.9 1318.8 L1992.9 1319.2 L1994.9 1319.7 L1996.9 1320.3 L1998.9 1321.0 L2000.9 1321.8 L2002.9 1322.6 L2004.9 1323.4 L2006.9 1324.0 L2008.9 1324.6 L2010.9 1325.2 L2012.9 1325.6 L2014.9 1326.1 L2016.9 1326.5 L2018.9 1326.9 L2020.9 1327.2 L2022.9 1327.6 L2024.9 1327.9 L2026.9 1328.1 L2028.9 1328.3 L2030.9 1328.4 L2032.9 1328.5 L2034.9 1328.5 L2036.9 1328.4 L2038.9 1328.2 L2040.9 1327.8 L2042.9 1327.3 L2044.9 1326.7 L2046.9 1326.0 L2048.9 1325.2 L2050.9 1324.3 L2052.9 1323.2 L2054.9 1322.2 L2056.9 1321.0 L2058.9 1319.9 L2060.9 1318.7 L2062.9 1317.5 L2064.9 1316.3 L2066.9 1315.0 L2068.9 1313.7 L2070.9 1312.2 L2072.9 1310.7 L2074.9 1309.1 L2076.9 1307.5 L2078.9 1306.0 L2080.9 1304.5 L2082.9 1303.0 L2084.9 1301.5 L2086.9 1300.1 L2088.9 1298.8 L2090.9 1297.6 L2092.9 1296.5 L2094.9 1295.3 L2096.9 1294.2 L2098.9 1293.0 L2100.9 1291.8 L2102.9 1290.6 L2104.9 1289.4 L2106.9 1288.1 L2108.9 1286.7 L2110.9 1285.2 L2112.9 1283.6 L2114.9 1281.9 L2116.9 1280.1 L2118.9 1278.3 L2120.9 1276.5 L2122.9 1274.5 L2124.9 1272.5 L2126.9 1270.5 L2128.9 1268.4 L2130.9 1266.2 L2132.9 1263.9 L2134.9 1261.5 L2136.9 1258.9 L2138.9 1256.2 L2140.9 1253.5 L2142.9 1250.5 L2144.9 1247.3 L2146.9 1244.1 L2148.9 1241.0 L2150.9 1237.8 L2152.9 1234.5 L2154.9 1231.1 L2156.9 1227.7 L2158.9 1224.4 L2160.9 1221.3 L2162.9 1218.0 L2164.9 1214.5 L2166.9 1210.7 L2168.9 1206.8 L2170.9 1202.9 L2172.9 1199.0 L2174.9 1195.1 L2176.9 1191.4 L2178.9 1187.8 L2180.9 1184.3 L2182.9 1181.1 L2184.9 1178.1 L2186.9 1175.5 L2188.9 1173.0 L2190.9 1170.7 L2192.9 1168.4 L2194.9 1166.1 L2196.9 1163.7 L2198.9 1161.4 L2200.9 1159.1 L2202.9 1156.8 L2204.9 1154.6 L2206.9 1152.5 L2208.9 1150.5 L2210.9 1148.8 L2212.9 1147.3 L2214.9 1146.0 L2216.9 1145.0 L2218.9 1144.3 L2220.9 1143.9 L2222.9 1143.8 L2224.9 1143.9 L2226.9 1144.4 L2228.9 1145.3 L2230.9 1146.5 L2232.9 1147.8 L2234.9 1149.2 L2236.9 1150.7 L2238.9 1152.3 L2240.9 1154.3 L2242.9 1156.6 L2244.9 1159.3 L2246.9 1162.2 L2248.9 1165.2 L2250.9 1168.2 L2252.9 1171.3 L2254.9 1174.5 L2256.9 1177.6 L2258.9 1180.7 L2260.9 1183.7 L2262.9 1186.8 L2264.9 1190.1 L2266.9 1193.8 L2268.9 1197.8 L2270.9 1201.8 L2272.9 1205.7 L2274.9 1209.6 L2276.9 1213.5 L2278.9 1217.4 L2280.9 1221.5 L2282.9 1225.5 L2284.9 1229.3 L2286.9 1232.7 L2288.9 1235.8 L2290.9 1238.6 L2292.9 1241.3 L2294.9 1244.1 L2296.9 1246.8 L2298.9 1249.1 L2300.9 1251.2 L2302.9 1253.0 L2304.9 1254.7 L2306.9 1256.3 L2308.9 1257.7 L2310.9 1259.0 L2312.9 1260.1 L2314.9 1260.9 L2315.9 1261.2" fill="none" stroke="#2962ff" stroke-width="3.8" stroke-linejoin="round" stroke-linecap="round"/>
<path fill="#4caf50" d="M34.74 1330.60h5.5v1.20h-5.5zM42.39 1327.00h5.5v4.80h-5.5zM50.04 1324.10h5.5v7.70h-5.5zM57.69 1322.10h5.5v9.70h-5.5zM65.34 1321.20h5.5v10.60h-5.5zM72.99 1320.20h5.5v11.60h-5.5zM80.64 1320.20h5.5v11.60h-5.5zM88.29 1319.40h5.5v12.40h-5.5zM95.94 1318.60h5.5v13.20h-5.5zM103.59 1318.60h5.5v13.20h-5.5zM111.25 1318.60h5.5v13.20h-5.5zM118.90 1319.40h5.5v12.40h-5.5zM126.55 1320.20h5.5v11.60h-5.5zM134.20 1321.70h5.5v10.10h-5.5zM141.85 1327.50h5.5v4.30h-5.5zM241.31 1327.50h5.5v4.30h-5.5zM248.96 1317.90h5.5v13.90h-5.5zM256.62 1309.60h5.5v22.20h-5.5zM264.27 1300.60h5.5v31.20h-5.5zM271.92 1294.20h5.5v37.60h-5.5zM279.57 1287.90h5.5v43.90h-5.5zM287.22 1284.30h5.5v47.50h-5.5zM294.87 1281.70h5.5v50.10h-5.5zM302.52 1280.10h5.5v51.70h-5.5zM310.17 1280.10h5.5v51.70h-5.5zM317.82 1282.50h5.5v49.30h-5.5zM325.47 1287.90h5.5v43.90h-5.5zM333.12 1294.40h5.5v37.40h-5.5zM340.78 1300.60h5.5v31.20h-5.5zM348.43 1307.90h5.5v23.90h-5.5zM356.08 1314.10h5.5v17.70h-5.5zM363.73 1319.40h5.5v12.40h-5.5zM371.38 1322.10h5.5v9.70h-5.5zM379.03 1323.10h5.5v8.70h-5.5zM386.68 1321.20h5.5v10.60h-5.5zM394.33 1318.60h5.5v13.20h-5.5zM401.98 1315.80h5.5v16.00h-5.5zM409.63 1312.10h5.5v19.70h-5.5zM417.29 1309.60h5.5v22.20h-5.5zM424.94 1308.70h5.5v23.10h-5.5zM432.59 1306.90h5.5v24.90h-5.5zM440.24 1307.70h5.5v24.10h-5.5zM447.89 1306.90h5.5v24.90h-5.5zM455.54 1306.90h5.5v24.90h-5.5zM463.19 1308.70h5.5v23.10h-5.5zM470.84 1314.10h5.5v17.70h-5.5zM478.49 1321.20h5.5v10.60h-5.5zM486.14 1329.30h5.5v2.50h-5.5zM792.19 1330.80h5.5v1.00h-5.5zM799.84 1330.40h5.5v1.40h-5.5zM807.49 1327.50h5.5v4.30h-5.5zM815.14 1324.10h5.5v7.70h-5.5zM822.79 1318.60h5.5v13.20h-5.5zM830.44 1312.40h5.5v19.40h-5.5zM838.09 1306.10h5.5v25.70h-5.5zM845.74 1302.30h5.5v29.50h-5.5zM853.39 1299.90h5.5v31.90h-5.5zM861.04 1301.40h5.5v30.40h-5.5zM868.70 1305.10h5.5v26.70h-5.5zM876.35 1310.60h5.5v21.20h-5.5zM884.00 1316.00h5.5v15.80h-5.5zM891.65 1322.30h5.5v9.50h-5.5zM899.30 1329.30h5.5v2.50h-5.5zM998.76 1327.50h5.5v4.30h-5.5zM1006.41 1324.10h5.5v7.70h-5.5zM1014.06 1322.10h5.5v9.70h-5.5zM1021.71 1321.20h5.5v10.60h-5.5zM1029.37 1319.40h5.5v12.40h-5.5zM1037.02 1318.60h5.5v13.20h-5.5zM1044.67 1316.90h5.5v14.90h-5.5zM1052.32 1315.20h5.5v16.60h-5.5zM1059.97 1314.10h5.5v17.70h-5.5zM1067.62 1314.10h5.5v17.70h-5.5zM1075.27 1313.10h5.5v18.70h-5.5zM1082.92 1313.10h5.5v18.70h-5.5zM1090.57 1313.10h5.5v18.70h-5.5zM1098.22 1312.40h5.5v19.40h-5.5zM1105.88 1309.60h5.5v22.20h-5.5zM1113.53 1306.10h5.5v25.70h-5.5zM1121.18 1302.30h5.5v29.50h-5.5zM1128.83 1301.40h5.5v30.40h-5.5zM1136.48 1301.40h5.5v30.40h-5.5zM1144.13 1299.60h5.5v32.20h-5.5zM1151.78 1297.10h5.5v34.70h-5.5zM1159.43 1294.20h5.5v37.60h-5.5zM1167.08 1292.30h5.5v39.50h-5.5zM1174.73 1291.60h5.5v40.20h-5.5zM1182.39 1290.50h5.5v41.30h-5.5zM1190.04 1290.50h5.5v41.30h-5.5zM1197.69 1290.50h5.5v41.30h-5.5zM1205.34 1291.60h5.5v40.20h-5.5zM1212.99 1292.30h5.5v39.50h-5.5zM1220.64 1296.00h5.5v35.80h-5.5zM1228.29 1301.40h5.5v30.40h-5.5zM1235.94 1307.90h5.5v23.90h-5.5zM1243.59 1313.10h5.5v18.70h-5.5zM1251.24 1318.60h5.5v13.20h-5.5zM1258.90 1320.20h5.5v11.60h-5.5zM1266.55 1323.10h5.5v8.70h-5.5zM1274.20 1324.10h5.5v7.70h-5.5zM1281.85 1325.20h5.5v6.60h-5.5zM1289.50 1329.30h5.5v2.50h-5.5zM1557.28 1330.80h5.5v1.00h-5.5zM1564.94 1317.10h5.5v14.70h-5.5zM1572.59 1302.50h5.5v29.30h-5.5zM1580.24 1292.40h5.5v39.40h-5.5zM1587.89 1285.40h5.5v46.40h-5.5zM1595.54 1280.20h5.5v51.60h-5.5zM1603.19 1276.50h5.5v55.30h-5.5zM1610.84 1274.40h5.5v57.40h-5.5zM1618.49 1274.40h5.5v57.40h-5.5zM1626.14 1276.50h5.5v55.30h-5.5zM1633.79 1279.20h5.5v52.60h-5.5zM1641.45 1282.00h5.5v49.80h-5.5zM1649.10 1284.40h5.5v47.40h-5.5zM1656.75 1285.40h5.5v46.40h-5.5zM1664.40 1286.10h5.5v45.70h-5.5zM1672.05 1287.20h5.5v44.60h-5.5zM1679.70 1287.20h5.5v44.60h-5.5zM1687.35 1285.40h5.5v46.40h-5.5zM1695.00 1285.40h5.5v46.40h-5.5zM1702.65 1285.40h5.5v46.40h-5.5zM1710.30 1290.00h5.5v41.80h-5.5zM1717.96 1294.50h5.5v37.30h-5.5zM1725.61 1300.00h5.5v31.80h-5.5zM1733.26 1307.20h5.5v24.60h-5.5zM1740.91 1314.10h5.5v17.70h-5.5zM1748.56 1321.20h5.5v10.60h-5.5zM1756.21 1328.50h5.5v3.30h-5.5zM1970.44 1330.80h5.5v1.00h-5.5zM1978.09 1330.40h5.5v1.40h-5.5zM1985.74 1329.30h5.5v2.50h-5.5zM1993.39 1330.80h5.5v1.00h-5.5zM2054.60 1330.40h5.5v1.40h-5.5zM2062.25 1327.70h5.5v4.10h-5.5zM2069.90 1324.10h5.5v7.70h-5.5zM2077.55 1320.20h5.5v11.60h-5.5zM2085.20 1317.90h5.5v13.90h-5.5zM2092.86 1317.90h5.5v13.90h-5.5zM2100.51 1316.90h5.5v14.90h-5.5zM2108.16 1316.00h5.5v15.80h-5.5zM2115.81 1315.20h5.5v16.60h-5.5zM2123.46 1312.40h5.5v19.40h-5.5zM2131.11 1308.70h5.5v23.10h-5.5zM2138.76 1304.40h5.5v27.40h-5.5zM2146.41 1301.40h5.5v30.40h-5.5zM2154.06 1298.10h5.5v33.70h-5.5zM2161.71 1294.40h5.5v37.40h-5.5zM2169.36 1290.80h5.5v41.00h-5.5zM2177.02 1288.10h5.5v43.70h-5.5zM2184.67 1287.10h5.5v44.70h-5.5zM2192.32 1287.10h5.5v44.70h-5.5zM2199.97 1288.90h5.5v42.90h-5.5zM2207.62 1291.60h5.5v40.20h-5.5zM2215.27 1296.00h5.5v35.80h-5.5zM2222.92 1303.40h5.5v28.40h-5.5zM2230.57 1312.20h5.5v19.60h-5.5zM2238.22 1321.40h5.5v10.40h-5.5zM2245.88 1330.50h5.5v1.30h-5.5z"/><path fill="#ff5252" d="M19.43 1331.80h5.5v9.00h-5.5zM27.08 1331.80h5.5v5.00h-5.5zM149.50 1331.80h5.5v3.80h-5.5zM157.15 1331.80h5.5v14.20h-5.5zM164.80 1331.80h5.5v25.90h-5.5zM172.45 1331.80h5.5v34.70h-5.5zM180.10 1331.80h5.5v40.40h-5.5zM187.76 1331.80h5.5v43.10h-5.5zM195.41 1331.80h5.5v42.00h-5.5zM203.06 1331.80h5.5v39.60h-5.5zM210.71 1331.80h5.5v34.00h-5.5zM218.36 1331.80h5.5v26.90h-5.5zM226.01 1331.80h5.5v17.70h-5.5zM233.66 1331.80h5.5v7.10h-5.5zM493.80 1331.80h5.5v5.00h-5.5zM501.45 1331.80h5.5v10.80h-5.5zM509.10 1331.80h5.5v15.20h-5.5zM516.75 1331.80h5.5v18.10h-5.5zM524.40 1331.80h5.5v21.70h-5.5zM532.05 1331.80h5.5v23.60h-5.5zM539.70 1331.80h5.5v23.60h-5.5zM547.35 1331.80h5.5v21.70h-5.5zM555.00 1331.80h5.5v18.10h-5.5zM562.65 1331.80h5.5v15.20h-5.5zM570.31 1331.80h5.5v12.90h-5.5zM577.96 1331.80h5.5v10.80h-5.5zM585.61 1331.80h5.5v10.80h-5.5zM593.26 1331.80h5.5v10.80h-5.5zM600.91 1331.80h5.5v11.80h-5.5zM608.56 1331.80h5.5v12.90h-5.5zM616.21 1331.80h5.5v13.60h-5.5zM623.86 1331.80h5.5v14.20h-5.5zM631.51 1331.80h5.5v16.00h-5.5zM639.16 1331.80h5.5v19.10h-5.5zM646.82 1331.80h5.5v19.80h-5.5zM654.47 1331.80h5.5v19.80h-5.5zM662.12 1331.80h5.5v19.80h-5.5zM669.77 1331.80h5.5v21.70h-5.5zM677.42 1331.80h5.5v25.00h-5.5zM685.07 1331.80h5.5v26.90h-5.5zM692.72 1331.80h5.5v28.80h-5.5zM700.37 1331.80h5.5v31.30h-5.5zM708.02 1331.80h5.5v35.00h-5.5zM715.67 1331.80h5.5v35.00h-5.5zM723.33 1331.80h5.5v33.40h-5.5zM730.98 1331.80h5.5v29.80h-5.5zM738.63 1331.80h5.5v25.00h-5.5zM746.28 1331.80h5.5v21.70h-5.5zM753.93 1331.80h5.5v18.10h-5.5zM761.58 1331.80h5.5v13.40h-5.5zM769.23 1331.80h5.5v9.00h-5.5zM776.88 1331.80h5.5v5.00h-5.5zM784.53 1331.80h5.5v2.80h-5.5zM906.95 1331.80h5.5v6.10h-5.5zM914.60 1331.80h5.5v13.40h-5.5zM922.25 1331.80h5.5v19.80h-5.5zM929.90 1331.80h5.5v25.00h-5.5zM937.55 1331.80h5.5v28.00h-5.5zM945.21 1331.80h5.5v28.00h-5.5zM952.86 1331.80h5.5v26.90h-5.5zM960.51 1331.80h5.5v24.00h-5.5zM968.16 1331.80h5.5v20.70h-5.5zM975.81 1331.80h5.5v13.90h-5.5zM983.46 1331.80h5.5v8.00h-5.5zM991.11 1331.80h5.5v2.80h-5.5zM1297.15 1331.80h5.5v2.80h-5.5zM1304.80 1331.80h5.5v7.10h-5.5zM1312.45 1331.80h5.5v10.80h-5.5zM1320.10 1331.80h5.5v16.30h-5.5zM1327.75 1331.80h5.5v23.30h-5.5zM1335.41 1331.80h5.5v31.60h-5.5zM1343.06 1331.80h5.5v39.60h-5.5zM1350.71 1331.80h5.5v44.10h-5.5zM1358.36 1331.80h5.5v45.90h-5.5zM1366.01 1331.80h5.5v43.10h-5.5zM1373.66 1331.80h5.5v37.80h-5.5zM1381.31 1331.80h5.5v32.30h-5.5zM1388.96 1331.80h5.5v26.90h-5.5zM1396.61 1331.80h5.5v22.50h-5.5zM1404.26 1331.80h5.5v18.10h-5.5zM1411.92 1331.80h5.5v13.60h-5.5zM1419.57 1331.80h5.5v10.00h-5.5zM1427.22 1331.80h5.5v9.00h-5.5zM1434.87 1331.80h5.5v10.80h-5.5zM1442.52 1331.80h5.5v11.80h-5.5zM1450.17 1331.80h5.5v12.90h-5.5zM1457.82 1331.80h5.5v15.20h-5.5zM1465.47 1331.80h5.5v24.30h-5.5zM1473.12 1331.80h5.5v42.30h-5.5zM1480.77 1331.80h5.5v59.40h-5.5zM1488.43 1331.80h5.5v76.50h-5.5zM1496.08 1331.80h5.5v85.50h-5.5zM1503.73 1331.80h5.5v89.70h-5.5zM1511.38 1331.80h5.5v86.30h-5.5zM1519.03 1331.80h5.5v76.50h-5.5zM1526.68 1331.80h5.5v62.60h-5.5zM1534.33 1331.80h5.5v47.50h-5.5zM1541.98 1331.80h5.5v31.40h-5.5zM1549.63 1331.80h5.5v15.00h-5.5zM1763.86 1331.80h5.5v3.80h-5.5zM1771.51 1331.80h5.5v10.00h-5.5zM1779.16 1331.80h5.5v14.20h-5.5zM1786.81 1331.80h5.5v18.10h-5.5zM1794.47 1331.80h5.5v19.80h-5.5zM1802.12 1331.80h5.5v21.70h-5.5zM1809.77 1331.80h5.5v24.30h-5.5zM1817.42 1331.80h5.5v26.90h-5.5zM1825.07 1331.80h5.5v31.60h-5.5zM1832.72 1331.80h5.5v34.00h-5.5zM1840.37 1331.80h5.5v37.10h-5.5zM1848.02 1331.80h5.5v39.60h-5.5zM1855.67 1331.80h5.5v43.10h-5.5zM1863.32 1331.80h5.5v45.90h-5.5zM1870.98 1331.80h5.5v47.70h-5.5zM1878.63 1331.80h5.5v45.90h-5.5zM1886.28 1331.80h5.5v45.10h-5.5zM1893.93 1331.80h5.5v43.10h-5.5zM1901.58 1331.80h5.5v40.40h-5.5zM1909.23 1331.80h5.5v37.10h-5.5zM1916.88 1331.80h5.5v32.30h-5.5zM1924.53 1331.80h5.5v26.90h-5.5zM1932.18 1331.80h5.5v20.70h-5.5zM1939.83 1331.80h5.5v16.00h-5.5zM1947.49 1331.80h5.5v12.50h-5.5zM1955.14 1331.80h5.5v9.00h-5.5zM1962.79 1331.80h5.5v4.50h-5.5zM2001.04 1331.80h5.5v2.80h-5.5zM2008.69 1331.80h5.5v3.50h-5.5zM2016.34 1331.80h5.5v5.30h-5.5zM2024.00 1331.80h5.5v5.30h-5.5zM2031.65 1331.80h5.5v5.30h-5.5zM2039.30 1331.80h5.5v4.50h-5.5zM2046.95 1331.80h5.5v1.70h-5.5zM2253.53 1331.80h5.5v8.60h-5.5zM2261.18 1331.80h5.5v18.40h-5.5zM2268.83 1331.80h5.5v27.80h-5.5zM2276.48 1331.80h5.5v33.70h-5.5zM2284.13 1331.80h5.5v38.70h-5.5zM2291.78 1331.80h5.5v40.20h-5.5zM2299.43 1331.80h5.5v40.20h-5.5zM2307.08 1331.80h5.5v36.90h-5.5zM2314.73 1331.80h5.5v32.00h-5.5z"/>
<line x1="18" y1="1331.8" x2="2397" y2="1331.8" stroke="#8a8d96" stroke-width="2" stroke-dasharray="2 3.4"/>
</g>
<g clip-path="url(#ic)"><path d="M144.25 1132.2 L160.25 1132.2 L152.25 1147.6Z" fill="#ff5252"/><path d="M488.55 1132.2 L504.55 1132.2 L496.55 1147.6Z" fill="#ff5252"/><path d="M901.70 1132.2 L917.70 1132.2 L909.70 1147.6Z" fill="#ff5252"/><path d="M1291.90 1132.2 L1307.90 1132.2 L1299.90 1147.6Z" fill="#ff5252"/><path d="M1758.61 1132.2 L1774.61 1132.2 L1766.61 1147.6Z" fill="#ff5252"/><path d="M1995.79 1132.2 L2011.79 1132.2 L2003.79 1147.6Z" fill="#ff5252"/><path d="M2248.28 1132.2 L2264.28 1132.2 L2256.28 1147.6Z" fill="#ff5252"/><path d="M28.89 1434.7 L46.09 1434.7 L37.49 1419.8Z" fill="#4caf50"/><path d="M235.46 1434.7 L252.66 1434.7 L244.06 1419.8Z" fill="#4caf50"/><path d="M786.34 1434.7 L803.54 1434.7 L794.94 1419.8Z" fill="#4caf50"/><path d="M992.91 1434.7 L1010.11 1434.7 L1001.51 1419.8Z" fill="#4caf50"/><path d="M1551.43 1434.7 L1568.63 1434.7 L1560.03 1419.8Z" fill="#4caf50"/><path d="M1964.59 1434.7 L1981.79 1434.7 L1973.19 1419.8Z" fill="#4caf50"/><path d="M2048.75 1434.7 L2065.95 1434.7 L2057.35 1419.8Z" fill="#4caf50"/></g>
<line x1="18" y1="175.6" x2="2399.6" y2="175.6" stroke="#089981" stroke-width="2" stroke-dasharray="2 3.6"/>
<path d="M2399.6 160.5 H2529.9 Q2532.9 160.5 2532.9 163.5 V213.1 Q2532.9 216.1 2529.9 216.1 H2399.6 Z" fill="#089981"/>
<rect x="2405.3" y="55.9" width="129.3" height="47" rx="7.5" ry="7.5" fill="#fff" stroke="#e6e7ea" stroke-width="1"/>
<circle cx="2317.4" cy="1053.3" r="17.8" fill="#fff" stroke="#9c27b0" stroke-width="2.4"/>
<path d="M2321.38 1044.07 L2323.01 1045.05 L2318.3 1052.19 L2324.79 1052.19 L2324.47 1053.16 L2313.27 1062.9 L2311.97 1061.93 L2316.84 1054.46 L2310.18 1054.46 L2309.86 1053.49 Z" fill="#9c27b0" stroke="#9c27b0" stroke-width="0.6" stroke-linejoin="round"/>
<path d="M21.9 1573.6 H42.8 V1600 H32.5 V1583.75 H21.9 Z" fill="#131313"/>
<circle cx="52.3" cy="1578.6" r="5.3" fill="#131313"/>
<path d="M63.4 1573.6 H75.3 L65 1600 H52.5 Z" fill="#131313"/>
<line x1="18" y1="1077" x2="2541.5" y2="1077" stroke="#e8e8ea" stroke-width="2"/>
<rect x="18" y="48" width="2523.5" height="1486" fill="none" stroke="#f0f0f1" stroke-width="1.6"/>
<clipPath id="iclab"><rect x="2400" y="1078" width="140" height="420"/></clipPath>
<g font-family="Liberation Sans, sans-serif"><text x="18.20" y="36.20" font-size="23" letter-spacing="-0.38" fill="#131722" font-weight="normal" text-anchor="start">SISTEMASTRADING creado con TradingView.com, el Sep 11, 2025 14:52 UTC</text><text x="31.50" y="85.00" font-size="22.7" letter-spacing="-0.45" fill="#131722" font-weight="normal" text-anchor="start">Índice IBEX 35 · 1D · BME</text><text x="301.70" y="85.00" font-size="22.7" letter-spacing="0" fill="#131722" font-weight="normal" text-anchor="start">O</text><text x="318.00" y="85.00" font-size="22.7" letter-spacing="-0.3" fill="#089981" font-weight="normal" text-anchor="start">15.257,90</text><text x="428.40" y="85.00" font-size="22.7" letter-spacing="0" fill="#131722" font-weight="normal" text-anchor="start">H</text><text x="445.50" y="85.00" font-size="22.7" letter-spacing="-0.1" fill="#089981" font-weight="normal" text-anchor="start">15.328,50</text><text x="558.00" y="85.00" font-size="22.7" letter-spacing="0" fill="#131722" font-weight="normal" text-anchor="start">L</text><text x="569.70" y="85.00" font-size="22.7" letter-spacing="0.1" fill="#089981" font-weight="normal" text-anchor="start">15.204,80</text><text x="683.50" y="85.00" font-size="22.7" letter-spacing="0" fill="#131722" font-weight="normal" text-anchor="start">C</text><text x="698.50" y="85.00" font-size="22.7" letter-spacing="0" fill="#089981" font-weight="normal" text-anchor="start">15.293,60</text><text x="812.30" y="85.00" font-size="22.7" letter-spacing="0" fill="#089981" font-weight="normal" text-anchor="start">+76,10 (+0,50%)</text><text x="2414.50" y="131.07" font-size="22.5" letter-spacing="0.9" fill="#131722" font-weight="normal" text-anchor="start">15.600,00</text><text x="2414.50" y="261.81" font-size="22.5" letter-spacing="0.9" fill="#131722" font-weight="normal" text-anchor="start">14.800,00</text><text x="2414.50" y="327.18" font-size="22.5" letter-spacing="0.9" fill="#131722" font-weight="normal" text-anchor="start">14.400,00</text><text x="2414.50" y="392.55" font-size="22.5" letter-spacing="0.9" fill="#131722" font-weight="normal" text-anchor="start">14.000,00</text><text x="2414.50" y="457.92" font-size="22.5" letter-spacing="0.9" fill="#131722" font-weight="normal" text-anchor="start">13.600,00</text><text x="2414.50" y="523.29" font-size="22.5" letter-spacing="0.9" fill="#131722" font-weight="normal" text-anchor="start">13.200,00</text><text x="2414.50" y="588.66" font-size="22.5" letter-spacing="0.9" fill="#131722" font-weight="normal" text-anchor="start">12.800,00</text><text x="2414.50" y="654.03" font-size="22.5" letter-spacing="0.9" fill="#131722" font-weight="normal" text-anchor="start">12.400,00</text><text x="2414.50" y="719.40" font-size="22.5" letter-spacing="0.9" fill="#131722" font-weight="normal" text-anchor="start">12.000,00</text><text x="2414.50" y="784.77" font-size="22.5" letter-spacing="0.9" fill="#131722" font-weight="normal" text-anchor="start">11.600,00</text><text x="2414.50" y="850.14" font-size="22.5" letter-spacing="0.9" fill="#131722" font-weight="normal" text-anchor="start">11.200,00</text><text x="2414.50" y="915.51" font-size="22.5" letter-spacing="0.9" fill="#131722" font-weight="normal" text-anchor="start">10.800,00</text><text x="2414.50" y="980.88" font-size="22.5" letter-spacing="0.9" fill="#131722" font-weight="normal" text-anchor="start">10.400,00</text><text x="2414.50" y="1046.25" font-size="22.5" letter-spacing="0.9" fill="#131722" font-weight="normal" text-anchor="start">10.000,00</text><g clip-path="url(#iclab)"><text x="2413.70" y="1088.51" font-size="22.5" letter-spacing="0.95" fill="#131722" font-weight="normal" text-anchor="start">0,40</text><text x="2413.70" y="1150.84" font-size="22.5" letter-spacing="0.95" fill="#131722" font-weight="normal" text-anchor="start">0,30</text><text x="2413.70" y="1213.17" font-size="22.5" letter-spacing="0.95" fill="#131722" font-weight="normal" text-anchor="start">0,20</text><text x="2413.70" y="1275.50" font-size="22.5" letter-spacing="0.95" fill="#131722" font-weight="normal" text-anchor="start">0,10</text><text x="2413.70" y="1337.83" font-size="22.5" letter-spacing="0.95" fill="#131722" font-weight="normal" text-anchor="start">0,00</text><text x="2413.70" y="1400.16" font-size="22.5" letter-spacing="0.95" fill="#131722" font-weight="normal" text-anchor="start">−0,10</text><text x="2413.70" y="1462.49" font-size="22.5" letter-spacing="0.95" fill="#131722" font-weight="normal" text-anchor="start">−0,20</text></g><text x="144.75" y="1517.30" font-size="22.5" letter-spacing="-0.3" fill="#131722" font-weight="normal" text-anchor="middle">Ago</text><text x="313.07" y="1517.30" font-size="22.5" letter-spacing="-0.3" fill="#131722" font-weight="normal" text-anchor="middle">Sep</text><text x="473.74" y="1517.30" font-size="22.5" letter-spacing="-0.3" fill="#131722" font-weight="normal" text-anchor="middle">Oct</text><text x="649.72" y="1517.30" font-size="22.5" letter-spacing="-0.3" fill="#131722" font-weight="normal" text-anchor="middle">Nov</text><text x="810.39" y="1517.30" font-size="22.5" letter-spacing="-0.3" fill="#131722" font-weight="normal" text-anchor="middle">Dic</text><text x="964.46" y="1517.50" font-size="22.5" letter-spacing="2.5" fill="#131722" font-weight="bold" text-anchor="middle">2025</text><text x="1131.73" y="1517.30" font-size="22.5" letter-spacing="-0.3" fill="#131722" font-weight="normal" text-anchor="middle">Feb</text><text x="1284.75" y="1517.30" font-size="22.5" letter-spacing="-0.3" fill="#131722" font-weight="normal" text-anchor="middle">Mar</text><text x="1445.42" y="1517.30" font-size="22.5" letter-spacing="-0.3" fill="#131722" font-weight="normal" text-anchor="middle">Abr</text><text x="1598.44" y="1517.30" font-size="22.5" letter-spacing="-0.3" fill="#131722" font-weight="normal" text-anchor="middle">Mayo</text><text x="1759.11" y="1517.30" font-size="22.5" letter-spacing="-0.3" fill="#131722" font-weight="normal" text-anchor="middle">Jun</text><text x="1919.78" y="1517.30" font-size="22.5" letter-spacing="-0.3" fill="#131722" font-weight="normal" text-anchor="middle">Jul</text><text x="2095.76" y="1517.30" font-size="22.5" letter-spacing="-0.3" fill="#131722" font-weight="normal" text-anchor="middle">Ago</text><text x="2256.43" y="1517.30" font-size="22.5" letter-spacing="-0.3" fill="#131722" font-weight="normal" text-anchor="middle">Sep</text><text x="2414.70" y="182.10" font-size="22.5" letter-spacing="0.86" fill="#ffffff" font-weight="normal" text-anchor="start">15.293,60</text><text x="2414.40" y="207.30" font-size="22.5" letter-spacing="0.9" fill="rgba(255,255,255,0.88)" font-weight="normal" text-anchor="start">01:02:17</text><text x="2421.20" y="86.60" font-size="22.5" letter-spacing="-1.5" fill="#131722" font-weight="normal" text-anchor="start">EUR</text><text x="88.25" y="1600.00" font-size="38.4" letter-spacing="-0.72" fill="#131313" font-weight="bold" text-anchor="start">TradingView</text><text x="151.35" y="1173.30" font-size="22" letter-spacing="-1.3" fill="#2962ff" font-weight="normal" text-anchor="middle">SELL</text><text x="495.65" y="1173.30" font-size="22" letter-spacing="-1.3" fill="#2962ff" font-weight="normal" text-anchor="middle">SELL</text><text x="908.80" y="1173.30" font-size="22" letter-spacing="-1.3" fill="#2962ff" font-weight="normal" text-anchor="middle">SELL</text><text x="1299.00" y="1173.30" font-size="22" letter-spacing="-1.3" fill="#2962ff" font-weight="normal" text-anchor="middle">SELL</text><text x="1765.71" y="1173.30" font-size="22" letter-spacing="-1.3" fill="#2962ff" font-weight="normal" text-anchor="middle">SELL</text><text x="2002.89" y="1173.30" font-size="22" letter-spacing="-1.3" fill="#2962ff" font-weight="normal" text-anchor="middle">SELL</text><text x="2255.38" y="1173.30" font-size="22" letter-spacing="-1.3" fill="#2962ff" font-weight="normal" text-anchor="middle">SELL</text><text x="39.20" y="1414.70" font-size="22" letter-spacing="-1.4" fill="#2962ff" font-weight="normal" text-anchor="middle">BUY</text><text x="241.76" y="1414.70" font-size="22" letter-spacing="-1.4" fill="#2962ff" font-weight="normal" text-anchor="middle">BUY</text><text x="792.64" y="1414.70" font-size="22" letter-spacing="-1.4" fill="#2962ff" font-weight="normal" text-anchor="middle">BUY</text><text x="999.21" y="1414.70" font-size="22" letter-spacing="-1.4" fill="#2962ff" font-weight="normal" text-anchor="middle">BUY</text><text x="1557.73" y="1414.70" font-size="22" letter-spacing="-1.4" fill="#2962ff" font-weight="normal" text-anchor="middle">BUY</text><text x="1970.89" y="1414.70" font-size="22" letter-spacing="-1.4" fill="#2962ff" font-weight="normal" text-anchor="middle">BUY</text><text x="2055.05" y="1414.70" font-size="22" letter-spacing="-1.4" fill="#2962ff" font-weight="normal" text-anchor="middle">BUY</text></g>
</svg>
</body></html>
